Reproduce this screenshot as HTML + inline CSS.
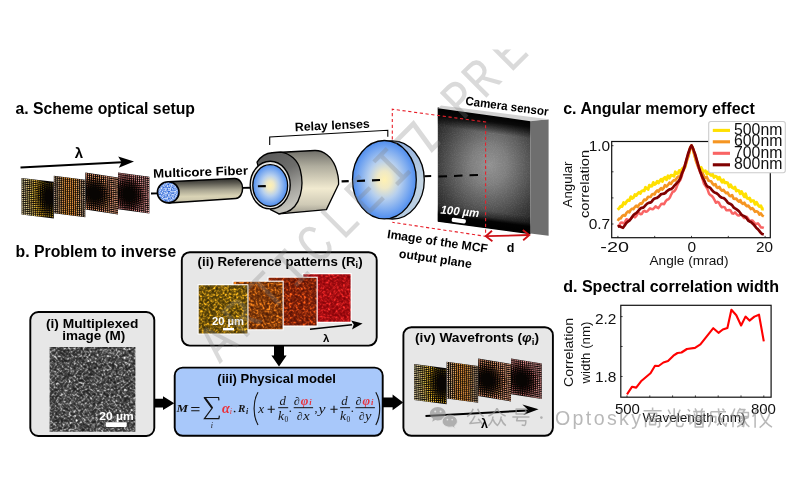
<!DOCTYPE html>
<html><head><meta charset="utf-8"><title>Figure</title>
<style>
html,body{margin:0;padding:0;background:#fff;}
body{width:800px;height:500px;overflow:hidden;font-family:"Liberation Sans",sans-serif;}
svg{display:block;font-family:"Liberation Sans",sans-serif;will-change:transform;opacity:0.999;}
</style></head><body>
<svg width="800" height="500" viewBox="0 0 800 500">

<defs>
  <radialGradient id="gLens" cx="50%" cy="50%" r="50%">
    <stop offset="0" stop-color="#fff1b2"/>
    <stop offset="0.22" stop-color="#efe9c6"/>
    <stop offset="0.5" stop-color="#b6cfee"/>
    <stop offset="0.8" stop-color="#78a8f0"/>
    <stop offset="1" stop-color="#4f8dee"/>
  </radialGradient>
  <linearGradient id="gBarrel" x1="0" y1="0" x2="0" y2="1">
    <stop offset="0" stop-color="#6f6e68"/>
    <stop offset="0.25" stop-color="#b0ad9e"/>
    <stop offset="0.6" stop-color="#f1ead0"/>
    <stop offset="0.85" stop-color="#cfcab6"/>
    <stop offset="1" stop-color="#9d9a8e"/>
  </linearGradient>
  <linearGradient id="gCollar" x1="0" y1="0" x2="0.35" y2="1">
    <stop offset="0" stop-color="#555555"/>
    <stop offset="0.45" stop-color="#6e6e6c"/>
    <stop offset="0.8" stop-color="#a9a8a2"/>
    <stop offset="1" stop-color="#c2c1ba"/>
  </linearGradient>
  <linearGradient id="gFiber" x1="0" y1="0" x2="0.05" y2="1">
    <stop offset="0" stop-color="#262624"/>
    <stop offset="0.22" stop-color="#5b5950"/>
    <stop offset="0.5" stop-color="#aaa692"/>
    <stop offset="0.75" stop-color="#d9d3b5"/>
    <stop offset="0.9" stop-color="#cfc9ae"/>
    <stop offset="1" stop-color="#8d8a7c"/>
  </linearGradient>
  <linearGradient id="gRim" x1="0" y1="0" x2="0" y2="1">
    <stop offset="0" stop-color="#8fb0e0"/>
    <stop offset="0.5" stop-color="#c3d4e2"/>
    <stop offset="1" stop-color="#b4cbe2"/>
  </linearGradient>
  <radialGradient id="gCam" gradientUnits="userSpaceOnUse" cx="489" cy="150" r="72" gradientTransform="scale(1 1.1)">
    <stop offset="0" stop-color="#929292"/>
    <stop offset="0.25" stop-color="#7e7e7e"/>
    <stop offset="0.5" stop-color="#5c5c5c"/>
    <stop offset="0.75" stop-color="#383838"/>
    <stop offset="1" stop-color="#1c1c1c"/>
  </radialGradient>
  <linearGradient id="gCamBottom" gradientUnits="userSpaceOnUse" x1="0" y1="204" x2="0" y2="221.6">
    <stop offset="0" stop-color="#000" stop-opacity="0"/>
    <stop offset="0.35" stop-color="#000" stop-opacity="0.35"/>
    <stop offset="0.58" stop-color="#000" stop-opacity="0.95"/>
    <stop offset="1" stop-color="#000" stop-opacity="1"/>
  </linearGradient>
  <linearGradient id="gCamTop" gradientUnits="userSpaceOnUse" x1="0" y1="107.6" x2="0" y2="126">
    <stop offset="0" stop-color="#000" stop-opacity="1"/>
    <stop offset="0.38" stop-color="#000" stop-opacity="0.88"/>
    <stop offset="1" stop-color="#000" stop-opacity="0"/>
  </linearGradient>

  <!-- speckle filters -->
  <filter id="fGray" x="0" y="0" width="100%" height="100%" color-interpolation-filters="sRGB">
    <feTurbulence type="fractalNoise" baseFrequency="0.85" numOctaves="2" seed="7"/>
    <feColorMatrix type="matrix" values="1 0 0 0 0 1 0 0 0 0 1 0 0 0 0 0 0 0 0 1"/>
    <feComponentTransfer><feFuncR type="gamma" amplitude="3.0" exponent="3.2" offset="0.03"/><feFuncG type="gamma" amplitude="3.0" exponent="3.2" offset="0.03"/><feFuncB type="gamma" amplitude="3.0" exponent="3.2" offset="0.03"/></feComponentTransfer>
    <feConvolveMatrix order="3" kernelMatrix="1 2 1 2 6 2 1 2 1" divisor="18" edgeMode="duplicate" preserveAlpha="true"/>
    <feComponentTransfer><feFuncR type="gamma" exponent="2" amplitude="1.74" offset="0.03"/><feFuncG type="gamma" exponent="2" amplitude="1.74" offset="0.03"/><feFuncB type="gamma" exponent="2" amplitude="1.74" offset="0.03"/><feFuncA type="linear" slope="0" intercept="1"/></feComponentTransfer>
  </filter>
  <filter id="fY" x="0" y="0" width="100%" height="100%" color-interpolation-filters="sRGB">
    <feTurbulence type="fractalNoise" baseFrequency="0.85" numOctaves="2" seed="11"/>
    <feColorMatrix type="matrix" values="1 0 0 0 0 1 0 0 0 0 1 0 0 0 0 0 0 0 0 1"/>
    <feComponentTransfer><feFuncR type="gamma" amplitude="3.0" exponent="3.2" offset="0.03"/><feFuncG type="gamma" amplitude="3.0" exponent="3.2" offset="0.03"/><feFuncB type="gamma" amplitude="3.0" exponent="3.2" offset="0.03"/></feComponentTransfer>
    <feConvolveMatrix order="3" kernelMatrix="1 2 1 2 6 2 1 2 1" divisor="18" edgeMode="duplicate" preserveAlpha="true"/>
    <feComponentTransfer><feFuncR type="gamma" exponent="2" amplitude="2.08" offset="0.125"/><feFuncG type="gamma" exponent="2" amplitude="1.51" offset="0.1"/><feFuncB type="gamma" exponent="2" amplitude="0.23" offset="0.01"/><feFuncA type="linear" slope="0" intercept="1"/></feComponentTransfer>
  </filter>
  <filter id="fO" x="0" y="0" width="100%" height="100%" color-interpolation-filters="sRGB">
    <feTurbulence type="fractalNoise" baseFrequency="0.85" numOctaves="2" seed="23"/>
    <feColorMatrix type="matrix" values="1 0 0 0 0 1 0 0 0 0 1 0 0 0 0 0 0 0 0 1"/>
    <feComponentTransfer><feFuncR type="gamma" amplitude="3.0" exponent="3.2" offset="0.03"/><feFuncG type="gamma" amplitude="3.0" exponent="3.2" offset="0.03"/><feFuncB type="gamma" amplitude="3.0" exponent="3.2" offset="0.03"/></feComponentTransfer>
    <feConvolveMatrix order="3" kernelMatrix="1 2 1 2 6 2 1 2 1" divisor="18" edgeMode="duplicate" preserveAlpha="true"/>
    <feComponentTransfer><feFuncR type="gamma" exponent="2" amplitude="1.84" offset="0.22"/><feFuncG type="gamma" exponent="2" amplitude="1.1" offset="0.06"/><feFuncB type="gamma" exponent="2" amplitude="0.23" offset="0.01"/><feFuncA type="linear" slope="0" intercept="1"/></feComponentTransfer>
  </filter>
  <filter id="fRO" x="0" y="0" width="100%" height="100%" color-interpolation-filters="sRGB">
    <feTurbulence type="fractalNoise" baseFrequency="0.85" numOctaves="2" seed="31"/>
    <feColorMatrix type="matrix" values="1 0 0 0 0 1 0 0 0 0 1 0 0 0 0 0 0 0 0 1"/>
    <feComponentTransfer><feFuncR type="gamma" amplitude="3.0" exponent="3.2" offset="0.03"/><feFuncG type="gamma" amplitude="3.0" exponent="3.2" offset="0.03"/><feFuncB type="gamma" amplitude="3.0" exponent="3.2" offset="0.03"/></feComponentTransfer>
    <feConvolveMatrix order="3" kernelMatrix="1 2 1 2 6 2 1 2 1" divisor="18" edgeMode="duplicate" preserveAlpha="true"/>
    <feComponentTransfer><feFuncR type="gamma" exponent="2" amplitude="1.78" offset="0.245"/><feFuncG type="gamma" exponent="2" amplitude="0.8" offset="0.02"/><feFuncB type="gamma" exponent="2" amplitude="0.2" offset="0.01"/><feFuncA type="linear" slope="0" intercept="1"/></feComponentTransfer>
  </filter>
  <filter id="fR" x="0" y="0" width="100%" height="100%" color-interpolation-filters="sRGB">
    <feTurbulence type="fractalNoise" baseFrequency="0.85" numOctaves="2" seed="47"/>
    <feColorMatrix type="matrix" values="1 0 0 0 0 1 0 0 0 0 1 0 0 0 0 0 0 0 0 1"/>
    <feComponentTransfer><feFuncR type="gamma" amplitude="3.0" exponent="3.2" offset="0.03"/><feFuncG type="gamma" amplitude="3.0" exponent="3.2" offset="0.03"/><feFuncB type="gamma" amplitude="3.0" exponent="3.2" offset="0.03"/></feComponentTransfer>
    <feConvolveMatrix order="3" kernelMatrix="1 2 1 2 6 2 1 2 1" divisor="18" edgeMode="duplicate" preserveAlpha="true"/>
    <feComponentTransfer><feFuncR type="gamma" exponent="2" amplitude="1.24" offset="0.46"/><feFuncG type="gamma" exponent="2" amplitude="0.44" offset="-0.013"/><feFuncB type="gamma" exponent="2" amplitude="0.37" offset="0.014"/><feFuncA type="linear" slope="0" intercept="1"/></feComponentTransfer>
  </filter>
  <filter id="fCamNoise" x="0" y="0" width="100%" height="100%" color-interpolation-filters="sRGB">
    <feTurbulence type="fractalNoise" baseFrequency="0.9" numOctaves="1" seed="5" result="n"/>
    <feColorMatrix in="n" type="matrix" values="0 0 0 0 1  0 0 0 0 1  0 0 0 0 1  1.2 0 0 0 -0.5"/>
  </filter>
  <filter id="fFib" x="0" y="0" width="100%" height="100%" color-interpolation-filters="sRGB">
    <feTurbulence type="fractalNoise" baseFrequency="0.7" numOctaves="1" seed="9" result="n"/>
    <feColorMatrix in="n" type="matrix" values="2.0 0 0 0 -0.45  1.5 0 0 0 -0.08  0.5 0 0 0 0.68  0 0 0 0 1"/>
  </filter>

  <!-- wavefront patterns -->
  <pattern id="pW1" width="2.46" height="2.4" patternUnits="userSpaceOnUse"><rect width="2.46" height="2.4" fill="#0d0a05"/><rect x="0.35" y="0.45" width="1.75" height="1.45" fill="#d9c36c"/></pattern>
  <pattern id="pW2" width="2.42" height="2.4" patternUnits="userSpaceOnUse"><rect width="2.42" height="2.4" fill="#0d0703"/><rect x="0.35" y="0.45" width="1.7" height="1.45" fill="#e29a4c"/></pattern>
  <pattern id="pW3" width="2.5" height="2.4" patternUnits="userSpaceOnUse"><rect width="2.5" height="2.4" fill="#0d0503"/><rect x="0.35" y="0.45" width="1.75" height="1.45" fill="#ea9878"/></pattern>
  <pattern id="pW4" width="2.4" height="2.4" patternUnits="userSpaceOnUse"><rect width="2.4" height="2.4" fill="#0d0405"/><rect x="0.35" y="0.45" width="1.7" height="1.45" fill="#dc7c80"/></pattern>
  <radialGradient id="gDent"><stop offset="0" stop-color="#000" stop-opacity="0.95"/><stop offset="0.5" stop-color="#000" stop-opacity="0.6"/><stop offset="1" stop-color="#000" stop-opacity="0"/></radialGradient>
  <radialGradient id="gGlowY"><stop offset="0" stop-color="#f2c935" stop-opacity="0.55"/><stop offset="1" stop-color="#f2c935" stop-opacity="0"/></radialGradient>
  <radialGradient id="gGlowO"><stop offset="0" stop-color="#f08a20" stop-opacity="0.5"/><stop offset="1" stop-color="#f08a20" stop-opacity="0"/></radialGradient>
</defs>

<rect x="0" y="0" width="800" height="500" fill="#ffffff"/>
<text x="15.4" y="113.8" font-size="15.6" font-weight="bold" fill="#000" textLength="179.5" lengthAdjust="spacingAndGlyphs">a. Scheme optical setup</text>
<text x="15.6" y="257" font-size="15.6" font-weight="bold" fill="#000" textLength="160.6" lengthAdjust="spacingAndGlyphs">b. Problem to inverse</text>
<text x="563.2" y="113.6" font-size="15.6" font-weight="bold" fill="#000" textLength="191.6" lengthAdjust="spacingAndGlyphs">c. Angular memory effect</text>
<text x="563.2" y="291.6" font-size="15.6" font-weight="bold" fill="#000" textLength="215.8" lengthAdjust="spacingAndGlyphs">d. Spectral correlation width</text>
<defs><g id="wp1">
<rect x="0" y="0" width="32.4" height="37.0" fill="#080503"/>
<path d="M0.2 0.4h1.5v1.1h-1.5zM0.2 23.8h1.5v1.1h-1.5z" fill="#ccbb99"/>
<path d="M2.3 0.4h1.5v1.1h-1.5zM2.3 2.4h1.5v1.1h-1.5zM0.2 6.3h1.5v1.1h-1.5zM0.2 10.1h1.5v1.1h-1.5zM0.2 12.1h1.5v1.1h-1.5zM0.2 19.9h1.5v1.1h-1.5zM0.2 21.8h1.5v1.1h-1.5zM0.2 27.7h1.5v1.1h-1.5zM0.2 29.6h1.5v1.1h-1.5zM2.3 29.6h1.5v1.1h-1.5zM0.2 31.6h1.5v1.1h-1.5zM2.3 33.5h1.5v1.1h-1.5zM0.2 35.5h1.5v1.1h-1.5zM2.3 35.5h1.5v1.1h-1.5zM4.3 35.5h1.5v1.1h-1.5z" fill="#eeddaa"/>
<path d="M4.3 0.4h1.5v1.1h-1.5zM4.3 2.4h1.5v1.1h-1.5zM2.3 17.9h1.5v1.1h-1.5zM4.3 27.7h1.5v1.1h-1.5zM4.3 33.5h1.5v1.1h-1.5z" fill="#eedd99"/>
<path d="M6.3 0.4h1.5v1.1h-1.5zM6.3 2.4h1.5v1.1h-1.5zM4.3 14.0h1.5v1.1h-1.5zM4.3 19.9h1.5v1.1h-1.5zM4.3 21.8h1.5v1.1h-1.5zM6.3 31.6h1.5v1.1h-1.5zM8.3 33.5h1.5v1.1h-1.5zM8.3 35.5h1.5v1.1h-1.5z" fill="#ccbb77"/>
<path d="M8.3 0.4h1.5v1.1h-1.5zM6.3 6.3h1.5v1.1h-1.5zM6.3 14.0h1.5v1.1h-1.5zM6.3 19.9h1.5v1.1h-1.5z" fill="#ddcc77"/>
<path d="M10.4 0.4h1.5v1.1h-1.5zM10.4 2.4h1.5v1.1h-1.5zM10.4 4.3h1.5v1.1h-1.5zM8.4 19.9h1.5v1.1h-1.5zM10.4 25.7h1.5v1.1h-1.5zM10.4 27.7h1.5v1.1h-1.5zM10.4 29.6h1.5v1.1h-1.5z" fill="#ddbb55"/>
<path d="M12.4 0.5h1.5v1.1h-1.5zM14.7 0.4h1.2v1.5h-1.2zM12.5 4.4h1.5v1.1h-1.5zM14.7 33.3h1.2v1.5h-1.2zM16.7 35.2h1.2v1.5h-1.2z" fill="#eebb44"/>
<path d="M16.8 0.5h1.1v1.4h-1.1zM16.9 2.6h1.1v1.3h-1.1zM16.9 29.2h1.1v1.4h-1.1z" fill="#ccaa22"/>
<path d="M19.0 0.8h1.0v1.3h-1.0zM19.1 2.9h1.0v1.2h-1.0zM14.8 17.9h1.4v1.0h-1.4zM17.1 21.6h1.3v0.9h-1.3zM17.0 23.5h1.3v1.0h-1.3zM19.1 29.0h1.0v1.3h-1.0zM24.9 34.6h1.0v1.3h-1.0zM26.8 34.6h1.0v1.3h-1.0zM28.8 34.6h1.0v1.3h-1.0z" fill="#bb9922"/>
<path d="M21.1 1.2h0.9v1.2h-0.9z" fill="#bb9911"/>
<path d="M23.2 1.6h0.9v1.1h-0.9z" fill="#887711"/>
<path d="M25.1 2.0h0.8v1.1h-0.8zM21.3 3.4h0.9v1.1h-0.9zM19.4 9.0h1.1v0.8h-1.1zM21.4 26.6h0.9v1.1h-0.9zM23.2 28.3h0.9v1.1h-0.9zM30.6 28.3h0.9v1.1h-0.9zM25.1 30.2h0.9v1.1h-0.9zM26.9 30.1h0.9v1.1h-0.9zM28.8 30.2h0.9v1.1h-0.9z" fill="#886611"/>
<path d="M26.9 2.1h0.8v1.0h-0.8zM23.3 3.8h0.8v1.0h-0.8zM30.5 3.9h0.8v1.0h-0.8zM21.6 7.5h0.8v1.0h-0.8zM19.6 12.6h1.1v0.8h-1.1zM19.7 16.1h1.1v0.8h-1.1zM19.6 19.6h1.1v0.8h-1.1zM21.5 24.6h0.8v1.0h-0.8zM23.4 26.2h0.8v1.0h-0.8zM30.5 26.1h0.8v1.0h-0.8zM28.7 28.0h0.8v1.0h-0.8z" fill="#665511"/>
<path d="M28.7 2.0h0.8v1.1h-0.8zM21.5 5.4h0.8v1.1h-0.8zM19.7 14.4h1.1v0.8h-1.1zM19.7 17.8h1.1v0.8h-1.1zM19.5 21.4h1.1v0.8h-1.1zM25.2 28.0h0.8v1.0h-0.8z" fill="#775511"/>
<path d="M30.6 1.7h0.9v1.1h-0.9zM19.3 7.1h1.2v0.9h-1.2zM17.2 14.2h1.2v0.9h-1.2zM17.2 17.9h1.2v0.9h-1.2zM17.2 19.7h1.2v0.9h-1.2zM19.3 23.2h1.2v0.8h-1.2zM23.1 30.5h0.9v1.2h-0.9z" fill="#997711"/>
<path d="M0.2 2.4h1.5v1.1h-1.5zM0.2 4.3h1.5v1.1h-1.5z" fill="#cccc99"/>
<path d="M8.4 2.4h1.5v1.1h-1.5zM6.3 21.8h1.5v1.1h-1.5z" fill="#ccaa66"/>
<path d="M12.5 2.4h1.5v1.1h-1.5zM10.4 12.1h1.5v1.1h-1.5zM10.4 14.0h1.5v1.1h-1.5zM10.4 17.9h1.5v1.1h-1.5zM12.5 25.7h1.5v1.1h-1.5zM12.5 27.6h1.5v1.1h-1.5z" fill="#eecc44"/>
<path d="M14.6 2.5h1.5v1.1h-1.5zM12.6 19.9h1.5v1.1h-1.5zM12.5 23.7h1.5v1.1h-1.5zM14.7 29.3h1.1v1.4h-1.1zM14.7 31.3h1.2v1.5h-1.2z" fill="#ddaa33"/>
<path d="M25.2 4.2h0.8v1.0h-0.8zM27.0 4.4h0.8v1.0h-0.8zM28.7 4.3h0.8v1.0h-0.8zM23.5 6.0h0.8v1.0h-0.8zM21.8 9.4h0.8v1.0h-0.8z" fill="#554411"/>
<path d="M2.3 4.3h1.5v1.1h-1.5zM0.2 8.2h1.5v1.1h-1.5zM2.3 8.2h1.5v1.1h-1.5zM2.3 10.1h1.5v1.1h-1.5zM2.3 12.1h1.5v1.1h-1.5zM2.3 16.0h1.5v1.1h-1.5zM2.3 19.9h1.5v1.1h-1.5zM2.3 21.8h1.5v1.1h-1.5zM0.2 25.7h1.5v1.1h-1.5zM2.3 27.7h1.5v1.1h-1.5zM4.3 31.6h1.5v1.1h-1.5zM0.2 33.5h1.5v1.1h-1.5z" fill="#ddcc99"/>
<path d="M4.3 4.3h1.5v1.1h-1.5zM0.2 14.0h1.5v1.1h-1.5zM2.3 14.0h1.5v1.1h-1.5zM0.2 16.0h1.5v1.1h-1.5zM0.2 17.9h1.5v1.1h-1.5zM2.3 25.7h1.5v1.1h-1.5zM2.3 31.6h1.5v1.1h-1.5zM6.3 33.5h1.5v1.1h-1.5zM6.3 35.5h1.5v1.1h-1.5z" fill="#ccbb88"/>
<path d="M6.3 4.3h1.5v1.1h-1.5zM6.3 10.1h1.5v1.1h-1.5zM6.3 16.0h1.5v1.1h-1.5zM6.3 17.9h1.5v1.1h-1.5zM6.3 23.8h1.5v1.1h-1.5zM8.3 31.6h1.5v1.1h-1.5z" fill="#ccbb66"/>
<path d="M8.4 4.3h1.5v1.1h-1.5zM8.4 6.3h1.5v1.1h-1.5zM8.4 14.0h1.5v1.1h-1.5zM8.4 21.8h1.5v1.1h-1.5zM8.4 25.7h1.5v1.1h-1.5zM10.4 31.6h1.5v1.1h-1.5zM12.6 35.3h1.2v1.5h-1.2z" fill="#eecc66"/>
<path d="M14.6 4.5h1.5v1.1h-1.5zM12.6 16.0h1.5v1.1h-1.5zM12.6 17.9h1.5v1.1h-1.5zM16.7 33.2h1.1v1.4h-1.1z" fill="#ccaa33"/>
<path d="M16.9 4.7h1.4v1.0h-1.4zM17.0 27.2h1.1v1.3h-1.1zM20.9 32.9h1.0v1.3h-1.0z" fill="#eebb22"/>
<path d="M19.3 4.9h0.9v1.2h-0.9zM19.3 25.0h0.9v1.2h-0.9zM21.2 28.7h0.9v1.2h-0.9zM25.0 32.5h0.9v1.2h-0.9z" fill="#bb8811"/>
<path d="M25.3 6.4h0.7v0.9h-0.7zM28.7 6.5h0.7v0.9h-0.7zM27.0 25.7h0.7v0.9h-0.7z" fill="#333300"/>
<path d="M27.0 6.6h0.7v0.9h-0.7zM23.7 8.0h0.7v0.9h-0.7zM30.3 8.1h0.7v0.9h-0.7zM22.0 12.9h0.9v0.7h-0.9zM22.0 14.5h0.9v0.7h-0.9zM28.6 23.7h0.7v0.9h-0.7z" fill="#332200"/>
<path d="M30.4 6.1h0.8v1.0h-0.8zM21.8 21.0h1.0v0.7h-1.0zM23.6 24.2h0.8v0.9h-0.8zM25.3 25.8h0.8v1.0h-0.8z" fill="#443311"/>
<path d="M2.3 6.3h1.5v1.1h-1.5zM2.3 23.8h1.5v1.1h-1.5z" fill="#dddd99"/>
<path d="M4.3 6.3h1.5v1.1h-1.5z" fill="#ddbb88"/>
<path d="M10.4 6.3h1.5v1.1h-1.5zM10.4 10.2h1.5v1.1h-1.5z" fill="#eecc55"/>
<path d="M12.5 6.3h1.5v1.1h-1.5zM12.5 8.3h1.5v1.1h-1.5zM12.6 12.1h1.5v1.1h-1.5z" fill="#ddbb33"/>
<path d="M14.7 6.4h1.4v1.1h-1.4zM12.5 10.2h1.5v1.1h-1.5zM12.6 14.1h1.5v1.1h-1.5zM12.5 21.8h1.5v1.1h-1.5zM14.8 21.7h1.4v1.0h-1.4zM14.7 25.6h1.5v1.1h-1.5zM14.6 27.5h1.5v1.1h-1.5zM18.8 35.1h1.1v1.4h-1.1z" fill="#eebb33"/>
<path d="M17.0 6.7h1.3v1.0h-1.3zM23.0 32.6h1.0v1.2h-1.0z" fill="#bb8822"/>
<path d="M25.5 8.5h0.7v0.9h-0.7zM28.6 8.5h0.7v0.9h-0.7zM30.2 10.0h0.7v0.9h-0.7zM23.9 20.5h0.7v0.9h-0.7zM27.0 23.6h0.7v0.9h-0.7z" fill="#221100"/>
<path d="M4.3 8.2h1.5v1.1h-1.5zM4.3 12.1h1.5v1.1h-1.5zM4.3 17.9h1.5v1.1h-1.5zM4.3 23.8h1.5v1.1h-1.5zM4.3 25.7h1.5v1.1h-1.5zM4.3 29.6h1.5v1.1h-1.5zM6.3 29.6h1.5v1.1h-1.5z" fill="#ddcc88"/>
<path d="M6.3 8.2h1.5v1.1h-1.5zM8.3 29.6h1.5v1.1h-1.5z" fill="#eecc77"/>
<path d="M8.4 8.2h1.5v1.1h-1.5zM8.4 10.2h1.5v1.1h-1.5zM8.4 27.7h1.5v1.1h-1.5zM10.4 33.5h1.5v1.1h-1.5z" fill="#ddbb66"/>
<path d="M10.4 8.2h1.5v1.1h-1.5zM10.4 16.0h1.5v1.1h-1.5zM10.4 19.9h1.5v1.1h-1.5zM12.4 29.6h1.5v1.1h-1.5zM14.6 35.2h1.2v1.5h-1.2z" fill="#ddbb44"/>
<path d="M14.7 8.4h1.4v1.0h-1.4zM14.8 12.2h1.4v1.0h-1.4zM14.9 16.0h1.4v1.0h-1.4zM16.9 25.4h1.3v1.0h-1.3zM19.2 27.0h1.0v1.2h-1.0zM18.8 33.1h1.1v1.4h-1.1zM30.7 34.8h1.0v1.3h-1.0z" fill="#cc9922"/>
<path d="M17.1 8.6h1.3v0.9h-1.3zM17.1 10.5h1.3v0.9h-1.3zM17.2 12.4h1.2v0.9h-1.2zM17.3 16.1h1.2v0.9h-1.2zM21.1 30.8h1.0v1.2h-1.0zM30.7 30.4h0.9v1.1h-0.9zM26.9 32.4h0.9v1.2h-0.9zM28.8 32.4h0.9v1.2h-0.9zM30.7 32.6h1.0v1.2h-1.0z" fill="#aa8811"/>
<path d="M23.9 9.9h0.7v0.9h-0.7zM22.1 16.1h0.9v0.7h-0.9zM22.0 17.7h0.9v0.7h-0.9zM23.8 22.2h0.7v0.9h-0.7zM30.2 22.2h0.7v0.9h-0.7zM25.4 23.8h0.7v0.9h-0.7z" fill="#222200"/>
<path d="M4.3 10.1h1.5v1.1h-1.5z" fill="#eedd88"/>
<path d="M14.8 10.3h1.4v1.0h-1.4zM14.8 19.8h1.4v1.0h-1.4zM14.7 23.7h1.4v1.0h-1.4zM18.9 31.0h1.0v1.3h-1.0zM20.8 34.9h1.1v1.4h-1.1zM22.9 34.8h1.0v1.3h-1.0z" fill="#ddaa22"/>
<path d="M19.5 10.9h1.1v0.8h-1.1z" fill="#776611"/>
<path d="M21.9 11.3h1.0v0.7h-1.0zM21.9 19.3h1.0v0.7h-1.0zM30.4 24.1h0.7v0.9h-0.7zM28.7 25.8h0.8v1.0h-0.8z" fill="#443300"/>
<path d="M6.3 12.1h1.5v1.1h-1.5zM4.3 16.0h1.5v1.1h-1.5zM6.3 27.7h1.5v1.1h-1.5z" fill="#ddbb77"/>
<path d="M8.4 12.1h1.5v1.1h-1.5zM8.4 23.8h1.5v1.1h-1.5zM12.6 33.3h1.2v1.5h-1.2z" fill="#ccaa55"/>
<path d="M14.8 14.1h1.4v1.0h-1.4z" fill="#ddbb22"/>
<path d="M8.4 16.0h1.5v1.1h-1.5z" fill="#ccbb55"/>
<path d="M8.4 17.9h1.5v1.1h-1.5z" fill="#ddcc55"/>
<path d="M10.4 21.8h1.5v1.1h-1.5zM12.4 31.5h1.5v1.1h-1.5z" fill="#ccaa44"/>
<path d="M10.4 23.8h1.5v1.1h-1.5z" fill="#eebb55"/>
<path d="M21.7 22.7h0.8v1.0h-0.8zM27.0 27.9h0.8v1.0h-0.8z" fill="#664411"/>
<path d="M6.3 25.7h1.5v1.1h-1.5z" fill="#eecc88"/>
<path d="M16.8 31.2h1.1v1.4h-1.1z" fill="#ffcc33"/>
<path d="M10.6 35.3h1.2v1.5h-1.2z" fill="#ddcc66"/>
</g>
<g id="wp2">
<rect x="0" y="0" width="32.4" height="37.0" fill="#080503"/>
<path d="M0.4 0.4h1.1v1.2h-1.1zM30.8 0.4h1.1v1.2h-1.1zM0.4 2.3h1.1v1.2h-1.1zM30.8 8.2h1.1v1.2h-1.1zM0.4 16.0h1.1v1.2h-1.1zM0.4 17.9h1.1v1.2h-1.1zM30.8 17.9h1.1v1.2h-1.1zM0.4 31.5h1.1v1.2h-1.1zM0.4 35.4h1.1v1.2h-1.1z" fill="#eeccaa"/>
<path d="M2.5 0.4h1.1v1.2h-1.1zM2.5 4.3h1.1v1.2h-1.1zM28.8 10.1h1.1v1.2h-1.1zM2.5 12.1h1.1v1.2h-1.1zM28.8 17.9h1.1v1.2h-1.1z" fill="#eecc99"/>
<path d="M4.5 0.3h1.2v1.3h-1.2zM26.8 2.3h1.2v1.3h-1.2zM26.8 19.8h1.2v1.3h-1.2zM4.5 25.7h1.2v1.3h-1.2zM26.8 31.5h1.2v1.3h-1.2z" fill="#cc9977"/>
<path d="M6.5 0.3h1.2v1.3h-1.2zM6.5 4.2h1.2v1.3h-1.2zM24.7 10.0h1.2v1.3h-1.2zM24.7 12.0h1.2v1.3h-1.2zM6.5 13.9h1.2v1.3h-1.2zM24.7 13.9h1.2v1.3h-1.2zM6.5 21.7h1.2v1.3h-1.2zM6.5 23.7h1.2v1.3h-1.2zM24.7 23.7h1.2v1.3h-1.2zM24.7 25.6h1.2v1.3h-1.2zM6.5 31.5h1.2v1.3h-1.2zM6.5 35.4h1.2v1.3h-1.2z" fill="#cc9955"/>
<path d="M8.5 0.3h1.2v1.4h-1.2zM8.5 4.2h1.2v1.4h-1.2zM22.7 4.2h1.2v1.4h-1.2zM22.7 6.1h1.2v1.4h-1.2zM8.5 8.1h1.2v1.4h-1.2zM8.5 10.0h1.2v1.4h-1.2zM22.7 10.0h1.2v1.4h-1.2zM8.5 13.9h1.2v1.4h-1.2zM22.7 25.6h1.2v1.4h-1.2zM22.7 31.4h1.2v1.4h-1.2z" fill="#eeaa55"/>
<path d="M10.5 0.2h1.2v1.5h-1.2zM12.6 0.2h1.2v1.5h-1.2zM18.6 2.2h1.2v1.5h-1.2zM10.5 4.1h1.2v1.5h-1.2zM12.6 4.1h1.2v1.5h-1.2zM14.6 4.1h1.2v1.5h-1.2zM16.6 4.1h1.2v1.5h-1.2zM18.6 4.1h1.2v1.5h-1.2zM10.5 6.1h1.2v1.5h-1.2zM14.6 6.1h1.2v1.5h-1.2zM16.6 6.1h1.2v1.5h-1.2zM12.6 8.0h1.2v1.5h-1.2zM14.6 8.0h1.2v1.5h-1.2zM20.7 8.0h1.2v1.5h-1.2zM12.6 10.0h1.2v1.5h-1.2zM16.6 10.0h1.2v1.5h-1.2zM14.6 11.9h1.2v1.5h-1.2zM18.6 11.9h1.2v1.5h-1.2zM18.6 13.9h1.2v1.5h-1.2zM12.6 15.8h1.2v1.5h-1.2zM20.7 15.8h1.2v1.5h-1.2zM10.5 19.7h1.2v1.5h-1.2zM12.6 19.7h1.2v1.5h-1.2zM14.6 21.7h1.2v1.5h-1.2zM18.6 21.7h1.2v1.5h-1.2zM20.7 21.7h1.2v1.5h-1.2zM14.6 23.6h1.2v1.5h-1.2zM20.7 23.6h1.2v1.5h-1.2zM14.6 27.5h1.2v1.5h-1.2zM16.6 27.5h1.2v1.5h-1.2zM18.6 27.5h1.2v1.5h-1.2zM20.7 27.5h1.2v1.5h-1.2zM12.6 29.4h1.2v1.5h-1.2zM14.6 29.4h1.2v1.5h-1.2zM16.6 29.4h1.2v1.5h-1.2zM18.6 29.4h1.2v1.5h-1.2zM10.5 31.4h1.2v1.5h-1.2zM20.7 31.4h1.2v1.5h-1.2zM12.6 33.3h1.2v1.5h-1.2zM14.6 33.3h1.2v1.5h-1.2zM20.7 33.3h1.2v1.5h-1.2zM14.6 35.3h1.2v1.5h-1.2z" fill="#ee9944"/>
<path d="M14.6 0.2h1.2v1.5h-1.2zM12.6 2.2h1.2v1.5h-1.2zM14.6 2.2h1.2v1.5h-1.2zM16.6 2.2h1.2v1.5h-1.2zM20.7 4.1h1.2v1.5h-1.2zM12.6 6.1h1.2v1.5h-1.2zM18.6 6.1h1.2v1.5h-1.2zM10.5 8.0h1.2v1.5h-1.2zM16.6 8.0h1.2v1.5h-1.2zM18.6 8.0h1.2v1.5h-1.2zM18.6 10.0h1.2v1.5h-1.2zM10.5 11.9h1.2v1.5h-1.2zM14.6 13.9h1.2v1.5h-1.2zM14.6 15.8h1.2v1.5h-1.2zM18.6 15.8h1.2v1.5h-1.2zM14.6 19.7h1.2v1.5h-1.2zM16.6 19.7h1.2v1.5h-1.2zM12.6 21.7h1.2v1.5h-1.2zM10.5 23.6h1.2v1.5h-1.2zM12.6 23.6h1.2v1.5h-1.2zM18.6 23.6h1.2v1.5h-1.2zM18.6 25.5h1.2v1.5h-1.2zM20.7 25.6h1.2v1.5h-1.2zM20.7 29.4h1.2v1.5h-1.2zM14.6 31.4h1.2v1.5h-1.2zM18.6 33.3h1.2v1.5h-1.2zM18.6 35.3h1.2v1.5h-1.2z" fill="#dd8833"/>
<path d="M16.6 0.2h1.2v1.5h-1.2zM18.6 0.2h1.2v1.5h-1.2zM18.6 19.7h1.2v1.5h-1.2zM14.6 25.5h1.2v1.5h-1.2zM12.6 35.3h1.2v1.5h-1.2z" fill="#dd9933"/>
<path d="M20.7 0.2h1.2v1.5h-1.2zM20.7 2.2h1.2v1.5h-1.2zM22.7 2.2h1.2v1.4h-1.2zM8.5 6.1h1.2v1.4h-1.2zM20.7 6.1h1.2v1.5h-1.2zM16.6 13.9h1.2v1.5h-1.2zM22.7 13.9h1.2v1.4h-1.2zM8.5 15.8h1.2v1.4h-1.2zM10.5 17.8h1.2v1.5h-1.2zM8.5 21.7h1.2v1.4h-1.2zM16.6 23.6h1.2v1.5h-1.2zM22.7 23.6h1.2v1.4h-1.2zM8.5 25.6h1.2v1.4h-1.2zM8.5 29.5h1.2v1.4h-1.2zM8.5 31.4h1.2v1.4h-1.2zM10.5 33.3h1.2v1.5h-1.2zM8.5 35.3h1.2v1.4h-1.2zM22.7 35.3h1.2v1.4h-1.2z" fill="#dd9944"/>
<path d="M22.7 0.3h1.2v1.4h-1.2zM8.5 2.2h1.2v1.4h-1.2zM8.5 11.9h1.2v1.4h-1.2zM22.7 15.8h1.2v1.4h-1.2zM8.5 17.8h1.2v1.4h-1.2zM22.7 19.7h1.2v1.4h-1.2zM8.5 27.5h1.2v1.4h-1.2zM22.7 27.5h1.2v1.4h-1.2zM22.7 29.5h1.2v1.4h-1.2zM8.5 33.4h1.2v1.4h-1.2zM22.7 33.4h1.2v1.4h-1.2z" fill="#cc8844"/>
<path d="M24.7 0.3h1.2v1.3h-1.2zM6.5 17.8h1.2v1.3h-1.2zM24.7 19.8h1.2v1.3h-1.2zM24.7 21.7h1.2v1.3h-1.2zM6.5 25.6h1.2v1.3h-1.2zM6.5 27.6h1.2v1.3h-1.2z" fill="#dd9966"/>
<path d="M26.8 0.3h1.2v1.3h-1.2zM4.5 2.3h1.2v1.3h-1.2zM4.5 6.2h1.2v1.3h-1.2zM26.8 6.2h1.2v1.3h-1.2zM26.8 10.1h1.2v1.3h-1.2zM4.5 12.0h1.2v1.3h-1.2zM4.5 14.0h1.2v1.3h-1.2zM26.8 14.0h1.2v1.3h-1.2zM26.8 15.9h1.2v1.3h-1.2zM4.5 17.9h1.2v1.3h-1.2zM26.8 21.8h1.2v1.3h-1.2zM4.5 33.4h1.2v1.3h-1.2zM26.8 33.4h1.2v1.3h-1.2zM4.5 35.4h1.2v1.3h-1.2z" fill="#ddaa77"/>
<path d="M28.8 0.4h1.1v1.2h-1.1zM2.5 2.3h1.1v1.2h-1.1zM0.4 4.3h1.1v1.2h-1.1zM28.8 4.3h1.1v1.2h-1.1zM30.8 4.3h1.1v1.2h-1.1zM0.4 6.2h1.1v1.2h-1.1zM2.5 6.2h1.1v1.2h-1.1zM0.4 8.2h1.1v1.2h-1.1zM28.8 8.2h1.1v1.2h-1.1zM0.4 10.1h1.1v1.2h-1.1zM28.8 12.1h1.1v1.2h-1.1zM2.5 14.0h1.1v1.2h-1.1zM28.8 14.0h1.1v1.2h-1.1zM2.5 16.0h1.1v1.2h-1.1zM28.8 16.0h1.1v1.2h-1.1zM28.8 19.8h1.1v1.2h-1.1zM28.8 21.8h1.1v1.2h-1.1zM2.5 23.7h1.1v1.2h-1.1zM2.5 25.7h1.1v1.2h-1.1zM30.8 25.7h1.1v1.2h-1.1zM28.8 27.6h1.1v1.2h-1.1zM30.8 27.7h1.1v1.2h-1.1zM30.8 29.6h1.1v1.2h-1.1zM2.5 31.5h1.1v1.2h-1.1zM0.4 33.5h1.1v1.2h-1.1zM2.5 33.5h1.1v1.2h-1.1zM28.8 33.5h1.1v1.2h-1.1zM2.5 35.4h1.1v1.2h-1.1zM28.8 35.4h1.1v1.2h-1.1zM30.8 35.4h1.1v1.2h-1.1z" fill="#ddbb99"/>
<path d="M6.5 2.2h1.2v1.3h-1.2zM24.7 2.2h1.2v1.3h-1.2zM6.5 8.1h1.2v1.3h-1.2zM24.7 8.1h1.2v1.3h-1.2zM6.5 29.5h1.2v1.3h-1.2z" fill="#cc9966"/>
<path d="M10.5 2.2h1.2v1.5h-1.2zM10.5 10.0h1.2v1.5h-1.2zM14.6 10.0h1.2v1.5h-1.2zM20.7 10.0h1.2v1.5h-1.2zM12.6 11.9h1.2v1.5h-1.2zM16.6 11.9h1.2v1.5h-1.2zM20.7 11.9h1.2v1.5h-1.2zM10.5 13.9h1.2v1.5h-1.2zM12.6 13.9h1.2v1.5h-1.2zM20.7 13.9h1.2v1.5h-1.2zM10.5 15.8h1.2v1.5h-1.2zM16.6 15.8h1.2v1.5h-1.2zM12.6 17.8h1.2v1.5h-1.2zM14.6 17.8h1.2v1.5h-1.2zM16.6 17.8h1.2v1.5h-1.2zM18.6 17.8h1.2v1.5h-1.2zM20.7 17.8h1.2v1.5h-1.2zM20.7 19.7h1.2v1.5h-1.2zM16.6 21.7h1.2v1.5h-1.2zM12.6 25.5h1.2v1.5h-1.2zM16.6 25.5h1.2v1.5h-1.2zM10.5 27.5h1.2v1.5h-1.2zM12.6 27.5h1.2v1.5h-1.2zM12.6 31.4h1.2v1.5h-1.2zM16.6 31.4h1.2v1.5h-1.2zM18.6 31.4h1.2v1.5h-1.2zM16.6 33.3h1.2v1.5h-1.2zM10.5 35.3h1.2v1.5h-1.2zM16.6 35.3h1.2v1.5h-1.2z" fill="#cc8833"/>
<path d="M28.8 2.3h1.1v1.2h-1.1zM30.8 2.3h1.1v1.2h-1.1zM28.8 6.2h1.1v1.2h-1.1zM2.5 8.2h1.1v1.2h-1.1zM2.5 10.1h1.1v1.2h-1.1zM30.8 12.1h1.1v1.2h-1.1zM30.8 16.0h1.1v1.2h-1.1zM2.5 17.9h1.1v1.2h-1.1zM0.4 21.8h1.1v1.2h-1.1zM2.5 21.8h1.1v1.2h-1.1zM30.8 21.8h1.1v1.2h-1.1zM28.8 23.7h1.1v1.2h-1.1zM28.8 25.7h1.1v1.2h-1.1zM28.8 31.5h1.1v1.2h-1.1z" fill="#ccaa88"/>
<path d="M4.5 4.2h1.2v1.3h-1.2zM2.5 19.8h1.1v1.2h-1.1zM26.8 23.7h1.2v1.3h-1.2zM26.8 25.7h1.2v1.3h-1.2zM2.5 27.6h1.1v1.2h-1.1zM4.5 27.6h1.2v1.3h-1.2zM2.5 29.6h1.1v1.2h-1.1zM28.8 29.6h1.1v1.2h-1.1z" fill="#ddbb88"/>
<path d="M24.7 4.2h1.2v1.3h-1.2zM6.5 6.1h1.2v1.3h-1.2zM24.7 6.1h1.2v1.3h-1.2zM6.5 10.0h1.2v1.3h-1.2zM24.7 33.4h1.2v1.3h-1.2z" fill="#eeaa66"/>
<path d="M26.8 4.2h1.2v1.3h-1.2zM26.8 8.1h1.2v1.3h-1.2zM26.8 12.0h1.2v1.3h-1.2zM4.5 19.8h1.2v1.3h-1.2zM4.5 21.8h1.2v1.3h-1.2zM4.5 23.7h1.2v1.3h-1.2zM26.8 29.6h1.2v1.3h-1.2z" fill="#ccaa77"/>
<path d="M30.8 6.2h1.1v1.2h-1.1zM0.4 23.8h1.1v1.2h-1.1zM30.8 23.8h1.1v1.2h-1.1zM0.4 27.7h1.1v1.2h-1.1zM0.4 29.6h1.1v1.2h-1.1zM30.8 33.5h1.1v1.2h-1.1z" fill="#ccbb99"/>
<path d="M4.5 8.1h1.2v1.3h-1.2zM4.5 10.1h1.2v1.3h-1.2zM4.5 15.9h1.2v1.3h-1.2zM26.8 17.9h1.2v1.3h-1.2zM26.8 27.6h1.2v1.3h-1.2zM4.5 29.6h1.2v1.3h-1.2zM4.5 31.5h1.2v1.3h-1.2zM26.8 35.4h1.2v1.3h-1.2z" fill="#eebb88"/>
<path d="M22.7 8.1h1.2v1.4h-1.2zM22.7 17.8h1.2v1.4h-1.2zM8.5 19.7h1.2v1.4h-1.2z" fill="#dd9955"/>
<path d="M30.8 10.1h1.1v1.2h-1.1zM0.4 12.1h1.1v1.2h-1.1zM0.4 14.0h1.1v1.2h-1.1zM0.4 19.9h1.1v1.2h-1.1zM30.8 19.9h1.1v1.2h-1.1zM30.8 31.5h1.1v1.2h-1.1z" fill="#ccaa99"/>
<path d="M6.5 12.0h1.2v1.3h-1.2zM6.5 15.9h1.2v1.3h-1.2zM24.7 15.9h1.2v1.3h-1.2zM24.7 17.8h1.2v1.3h-1.2zM6.5 19.8h1.2v1.3h-1.2zM24.7 27.6h1.2v1.3h-1.2zM24.7 29.5h1.2v1.3h-1.2zM24.7 31.5h1.2v1.3h-1.2zM6.5 33.4h1.2v1.3h-1.2zM24.7 35.4h1.2v1.3h-1.2z" fill="#ddaa66"/>
<path d="M22.7 11.9h1.2v1.4h-1.2zM22.7 21.7h1.2v1.4h-1.2zM8.5 23.6h1.2v1.4h-1.2z" fill="#ee9955"/>
<path d="M30.8 14.0h1.1v1.2h-1.1zM0.4 25.7h1.1v1.2h-1.1z" fill="#ddccaa"/>
<path d="M10.5 21.7h1.2v1.5h-1.2zM10.5 25.6h1.2v1.5h-1.2zM10.5 29.4h1.2v1.5h-1.2zM20.7 35.3h1.2v1.5h-1.2z" fill="#dd8844"/>
</g>
<g id="wp3">
<rect x="0" y="0" width="32.4" height="37.0" fill="#080503"/>
<path d="M0.5 0.4h1.2v1.5h-1.2zM16.6 0.4h1.2v1.5h-1.2zM18.6 0.3h1.2v1.5h-1.2zM22.7 0.3h1.2v1.5h-1.2zM26.6 0.4h1.5v1.1h-1.5zM30.6 0.4h1.5v1.1h-1.5zM22.7 2.2h1.2v1.5h-1.2zM22.4 4.4h1.5v1.1h-1.5zM24.5 4.4h1.5v1.1h-1.5zM26.5 4.3h1.5v1.1h-1.5zM28.6 4.3h1.5v1.1h-1.5zM26.5 6.3h1.5v1.1h-1.5zM30.6 8.2h1.5v1.1h-1.5zM28.5 10.2h1.5v1.1h-1.5zM26.4 12.2h1.5v1.1h-1.5zM28.5 17.9h1.5v1.1h-1.5zM30.6 19.9h1.5v1.1h-1.5zM30.6 21.8h1.5v1.1h-1.5zM28.5 25.7h1.5v1.1h-1.5zM26.5 27.6h1.5v1.1h-1.5zM28.5 27.6h1.5v1.1h-1.5zM24.4 29.5h1.5v1.1h-1.5zM26.5 29.6h1.5v1.1h-1.5zM28.6 29.6h1.5v1.1h-1.5zM26.5 31.5h1.5v1.1h-1.5zM22.4 33.4h1.5v1.1h-1.5zM24.5 33.5h1.5v1.1h-1.5zM30.6 33.5h1.5v1.1h-1.5zM30.6 35.5h1.5v1.1h-1.5z" fill="#dd9977"/>
<path d="M2.5 0.4h1.1v1.4h-1.1zM6.6 0.5h1.1v1.4h-1.1zM8.5 0.5h1.1v1.4h-1.1zM0.6 2.5h1.1v1.4h-1.1zM2.6 2.6h1.1v1.4h-1.1zM20.6 4.3h1.1v1.4h-1.1zM22.4 6.4h1.5v1.1h-1.5zM24.4 8.3h1.5v1.1h-1.5zM24.3 14.2h1.4v1.1h-1.4zM24.3 23.7h1.4v1.1h-1.4zM26.4 23.7h1.5v1.1h-1.5zM22.3 27.5h1.4v1.0h-1.4zM22.4 31.5h1.5v1.1h-1.5zM18.5 33.1h1.1v1.4h-1.1zM2.6 35.0h1.1v1.4h-1.1zM14.5 35.0h1.1v1.4h-1.1zM16.5 35.1h1.1v1.4h-1.1zM18.6 35.1h1.2v1.5h-1.2z" fill="#ee9977"/>
<path d="M4.5 0.5h1.1v1.4h-1.1zM4.6 2.6h1.1v1.4h-1.1zM6.6 2.7h1.1v1.3h-1.1zM8.6 2.7h1.1v1.3h-1.1zM16.5 2.4h1.1v1.4h-1.1zM18.5 4.4h1.1v1.4h-1.1zM26.4 19.9h1.5v1.1h-1.5zM22.3 29.5h1.5v1.1h-1.5zM20.3 31.4h1.4v1.1h-1.4zM12.5 35.0h1.1v1.4h-1.1z" fill="#dd9966"/>
<path d="M10.5 0.5h1.1v1.4h-1.1zM12.5 0.5h1.1v1.4h-1.1zM18.6 2.4h1.2v1.5h-1.2zM22.3 8.4h1.5v1.1h-1.5zM22.3 10.4h1.4v1.0h-1.4zM24.4 10.3h1.5v1.1h-1.5zM26.4 16.0h1.5v1.1h-1.5zM24.4 27.6h1.5v1.1h-1.5zM20.6 33.2h1.1v1.4h-1.1zM4.6 35.0h1.1v1.3h-1.1z" fill="#cc8866"/>
<path d="M14.6 0.4h1.2v1.4h-1.2zM20.3 6.5h1.4v1.1h-1.4zM24.5 6.3h1.5v1.1h-1.5zM30.6 6.3h1.5v1.1h-1.5zM30.6 12.1h1.5v1.1h-1.5zM26.4 14.1h1.5v1.1h-1.5zM28.5 16.0h1.5v1.1h-1.5zM26.4 25.7h1.5v1.1h-1.5zM30.6 27.7h1.5v1.1h-1.5zM0.6 35.1h1.1v1.4h-1.1zM20.6 35.2h1.2v1.5h-1.2zM22.7 35.2h1.2v1.5h-1.2z" fill="#eeaa77"/>
<path d="M20.6 0.3h1.2v1.5h-1.2zM26.6 2.4h1.5v1.1h-1.5zM30.6 2.4h1.5v1.1h-1.5zM30.6 10.2h1.5v1.1h-1.5zM28.5 12.1h1.5v1.1h-1.5zM28.5 21.8h1.5v1.1h-1.5zM28.5 23.8h1.5v1.1h-1.5zM30.6 23.8h1.5v1.1h-1.5zM26.5 33.5h1.5v1.1h-1.5zM28.6 33.5h1.5v1.1h-1.5z" fill="#ffaa88"/>
<path d="M24.5 0.4h1.5v1.1h-1.5zM28.6 0.4h1.5v1.1h-1.5zM20.6 2.3h1.2v1.5h-1.2zM24.5 2.4h1.5v1.1h-1.5zM28.6 2.4h1.5v1.1h-1.5zM30.6 4.3h1.5v1.1h-1.5zM28.6 6.3h1.5v1.1h-1.5zM28.6 8.2h1.5v1.1h-1.5zM26.5 10.2h1.5v1.1h-1.5zM30.6 16.0h1.5v1.1h-1.5zM30.6 17.9h1.5v1.1h-1.5zM30.6 25.7h1.5v1.1h-1.5zM30.6 29.6h1.5v1.1h-1.5zM24.5 31.5h1.5v1.1h-1.5zM28.6 31.6h1.5v1.1h-1.5zM30.6 31.6h1.5v1.1h-1.5zM26.6 35.4h1.5v1.1h-1.5z" fill="#eeaa88"/>
<path d="M10.6 2.7h1.1v1.3h-1.1zM16.4 6.7h1.0v1.3h-1.0zM20.1 10.6h1.3v1.0h-1.3zM22.2 25.6h1.4v1.0h-1.4zM20.1 27.4h1.3v1.0h-1.3zM18.1 29.2h1.3v0.9h-1.3zM20.2 29.4h1.4v1.0h-1.4zM18.4 31.1h1.0v1.3h-1.0zM2.7 32.9h1.0v1.3h-1.0zM8.6 34.9h1.0v1.3h-1.0z" fill="#cc8855"/>
<path d="M12.5 2.6h1.1v1.4h-1.1zM14.5 2.5h1.1v1.4h-1.1zM16.5 4.6h1.1v1.3h-1.1zM18.4 6.5h1.1v1.3h-1.1zM20.2 8.6h1.4v1.0h-1.4zM24.2 16.1h1.4v1.0h-1.4zM24.2 18.0h1.4v1.0h-1.4zM24.2 19.9h1.4v1.0h-1.4zM10.6 34.9h1.1v1.3h-1.1z" fill="#ee9966"/>
<path d="M0.7 4.6h1.1v1.3h-1.1zM2.7 4.7h1.0v1.3h-1.0zM22.2 12.4h1.4v1.0h-1.4zM24.3 12.2h1.5v1.1h-1.5zM26.4 18.0h1.5v1.1h-1.5zM24.2 21.8h1.4v1.0h-1.4zM24.3 25.6h1.5v1.1h-1.5zM0.7 33.0h1.1v1.3h-1.1zM16.5 33.0h1.1v1.3h-1.1zM6.6 34.9h1.1v1.3h-1.1z" fill="#dd8866"/>
<path d="M4.7 4.9h1.0v1.2h-1.0zM12.5 4.9h1.0v1.3h-1.0zM22.0 16.2h1.3v1.0h-1.3zM22.0 18.1h1.3v0.9h-1.3zM22.0 19.9h1.3v0.9h-1.3zM22.1 23.7h1.3v1.0h-1.3zM4.7 32.8h1.0v1.2h-1.0zM6.7 32.7h1.0v1.2h-1.0zM10.5 32.8h1.0v1.2h-1.0zM12.5 32.8h1.0v1.3h-1.0z" fill="#bb7755"/>
<path d="M6.7 5.0h1.0v1.2h-1.0zM8.6 5.0h1.0v1.2h-1.0zM14.5 4.7h1.0v1.3h-1.0zM0.9 6.7h1.0v1.2h-1.0zM18.1 8.8h1.3v0.9h-1.3zM22.1 14.3h1.3v1.0h-1.3zM0.9 31.0h1.0v1.2h-1.0zM14.5 32.9h1.0v1.3h-1.0z" fill="#cc7755"/>
<path d="M10.5 5.0h1.0v1.2h-1.0zM14.4 6.9h0.9v1.2h-0.9zM18.0 10.8h1.2v0.9h-1.2zM20.0 12.6h1.3v0.9h-1.3zM19.8 14.5h1.2v0.9h-1.2zM19.8 23.6h1.2v0.9h-1.2zM16.2 28.9h0.9v1.2h-0.9zM2.9 30.8h0.9v1.2h-0.9zM14.4 30.8h0.9v1.2h-0.9z" fill="#aa6644"/>
<path d="M2.9 7.0h0.9v1.2h-0.9zM20.0 25.5h1.3v0.9h-1.3zM16.4 31.0h1.0v1.3h-1.0zM8.6 32.7h1.0v1.2h-1.0z" fill="#bb7744"/>
<path d="M4.9 7.2h0.9v1.1h-0.9zM12.4 7.1h0.9v1.1h-0.9zM16.2 8.9h0.9v1.2h-0.9zM12.4 30.7h0.9v1.1h-0.9z" fill="#996644"/>
<path d="M6.8 7.3h0.9v1.1h-0.9zM8.7 7.3h0.9v1.1h-0.9zM10.5 7.3h0.9v1.1h-0.9zM1.1 8.9h0.9v1.2h-0.9zM19.7 18.2h1.1v0.8h-1.1zM19.7 19.9h1.1v0.8h-1.1zM17.8 25.3h1.1v0.8h-1.1zM18.0 27.2h1.2v0.9h-1.2z" fill="#995533"/>
<path d="M3.1 9.2h0.9v1.1h-0.9zM5.1 9.4h0.8v1.0h-0.8zM15.9 11.1h1.1v0.8h-1.1zM17.6 14.7h1.1v0.8h-1.1zM1.2 27.0h1.1v0.8h-1.1zM5.1 28.5h0.8v1.0h-0.8z" fill="#774422"/>
<path d="M6.9 9.6h0.8v1.0h-0.8zM10.5 9.6h0.8v1.0h-0.8zM3.4 11.4h0.8v1.0h-0.8zM1.5 13.2h1.0v0.8h-1.0zM15.7 13.1h1.0v0.8h-1.0zM17.5 16.5h1.0v0.8h-1.0zM17.4 21.7h1.0v0.8h-1.0zM1.6 25.0h1.0v0.8h-1.0zM14.0 26.6h0.8v1.0h-0.8zM12.3 28.5h0.8v1.0h-0.8z" fill="#663322"/>
<path d="M8.7 9.7h0.8v1.0h-0.8zM14.0 11.3h0.8v1.0h-0.8zM17.4 18.3h1.0v0.8h-1.0zM17.4 19.9h1.0v0.8h-1.0zM15.7 25.0h1.0v0.8h-1.0zM3.4 26.6h0.8v1.0h-0.8zM6.9 28.3h0.8v1.0h-0.8zM10.5 28.3h0.8v1.0h-0.8z" fill="#553322"/>
<path d="M12.3 9.4h0.8v1.0h-0.8zM17.6 23.4h1.1v0.8h-1.1z" fill="#664422"/>
<path d="M14.2 9.2h0.9v1.1h-0.9zM14.2 28.7h0.9v1.1h-0.9zM8.7 30.5h0.9v1.1h-0.9z" fill="#774433"/>
<path d="M26.5 8.2h1.5v1.1h-1.5zM28.5 14.1h1.5v1.1h-1.5zM30.6 14.0h1.5v1.1h-1.5zM28.5 19.9h1.5v1.1h-1.5zM24.5 35.4h1.5v1.1h-1.5zM28.6 35.5h1.5v1.1h-1.5z" fill="#cc9977"/>
<path d="M1.2 11.2h1.1v0.8h-1.1zM17.8 12.8h1.1v0.8h-1.1zM19.7 16.4h1.2v0.9h-1.2zM15.9 27.0h1.1v0.8h-1.1zM4.9 30.6h0.9v1.1h-0.9zM6.8 30.5h0.9v1.1h-0.9zM10.5 30.5h0.9v1.1h-0.9z" fill="#885533"/>
<path d="M5.3 11.7h0.7v0.9h-0.7zM12.1 11.6h0.7v0.9h-0.7zM1.8 15.0h1.0v0.7h-1.0zM15.4 15.0h1.0v0.7h-1.0zM1.8 23.2h1.0v0.7h-1.0zM15.4 23.2h1.0v0.7h-1.0zM5.3 26.3h0.7v0.9h-0.7zM12.1 26.4h0.7v0.9h-0.7z" fill="#442211"/>
<path d="M7.1 11.9h0.7v0.9h-0.7zM3.7 13.4h0.7v0.9h-0.7zM13.7 13.5h1.0v0.7h-1.0zM3.6 24.7h0.9v0.7h-0.9zM13.6 24.8h1.0v0.7h-1.0zM7.1 26.2h0.7v0.9h-0.7zM10.4 26.2h0.7v0.9h-0.7z" fill="#332211"/>
<path d="M8.7 11.9h0.7v0.9h-0.7zM2.2 18.4h0.9v0.7h-0.9zM15.1 18.4h0.9v0.7h-0.9zM2.2 19.9h0.9v0.7h-0.9zM15.1 19.9h0.9v0.7h-0.9zM15.2 21.5h0.9v0.7h-0.9zM8.7 26.1h0.7v0.9h-0.7z" fill="#221111"/>
<path d="M10.4 11.8h0.7v0.9h-0.7zM2.1 16.8h0.9v0.7h-0.9zM15.2 16.7h0.9v0.7h-0.9zM2.1 21.5h0.9v0.7h-0.9z" fill="#331111"/>
<path d="M5.6 13.7h0.7v0.9h-0.7zM11.9 13.7h0.7v0.9h-0.7zM13.4 15.3h0.9v0.7h-0.9zM3.9 22.9h0.9v0.7h-0.9zM11.9 24.4h0.7v0.9h-0.7z" fill="#221100"/>
<path d="M3.9 15.3h0.9v0.7h-0.9zM13.4 23.0h0.9v0.7h-0.9zM5.6 24.4h0.7v0.9h-0.7z" fill="#111100"/>
<path d="M19.7 21.7h1.2v0.9h-1.2zM1.1 28.9h0.9v1.2h-0.9z" fill="#996633"/>
<path d="M22.0 21.8h1.3v0.9h-1.3z" fill="#dd8855"/>
<path d="M26.4 21.8h1.5v1.1h-1.5z" fill="#ffaa77"/>
<path d="M3.2 28.7h0.9v1.1h-0.9z" fill="#884433"/>
<path d="M8.7 28.3h0.8v1.0h-0.8z" fill="#553311"/>
</g>
<g id="wp4">
<rect x="0" y="0" width="32.4" height="37.0" fill="#080503"/>
<path d="M0.5 0.3h1.2v1.5h-1.2zM2.5 0.3h1.2v1.5h-1.2zM6.5 0.4h1.2v1.5h-1.2zM8.6 0.4h1.2v1.4h-1.2zM18.6 0.3h1.2v1.5h-1.2zM24.7 0.3h1.2v1.5h-1.2zM26.7 0.2h1.2v1.5h-1.2zM28.6 0.4h1.5v1.1h-1.5zM18.6 2.4h1.1v1.4h-1.1zM26.5 2.4h1.5v1.1h-1.5zM30.6 2.4h1.5v1.1h-1.5zM18.5 4.5h1.1v1.4h-1.1zM24.5 4.4h1.5v1.1h-1.5zM30.6 4.3h1.5v1.1h-1.5zM22.4 6.5h1.5v1.1h-1.5zM24.4 6.4h1.5v1.1h-1.5zM24.3 10.4h1.4v1.1h-1.4zM28.5 10.2h1.5v1.1h-1.5zM30.6 10.2h1.5v1.1h-1.5zM28.5 12.1h1.5v1.1h-1.5zM28.4 18.0h1.5v1.1h-1.5zM30.5 23.8h1.5v1.1h-1.5zM30.5 25.7h1.5v1.1h-1.5zM30.6 27.6h1.5v1.1h-1.5zM28.5 29.6h1.5v1.1h-1.5zM26.5 31.5h1.5v1.1h-1.5zM30.6 31.6h1.5v1.1h-1.5zM22.4 33.3h1.5v1.1h-1.5zM24.4 33.4h1.5v1.1h-1.5zM26.5 33.5h1.5v1.1h-1.5z" fill="#cc8888"/>
<path d="M4.5 0.4h1.2v1.5h-1.2zM10.6 0.4h1.1v1.4h-1.1zM10.6 2.6h1.1v1.4h-1.1zM12.6 2.6h1.1v1.4h-1.1zM20.6 4.4h1.1v1.4h-1.1zM22.6 4.3h1.2v1.5h-1.2zM20.5 6.4h1.1v1.4h-1.1zM22.3 8.5h1.4v1.0h-1.4zM26.3 16.1h1.4v1.0h-1.4zM26.2 18.0h1.4v1.0h-1.4zM26.3 23.7h1.4v1.0h-1.4zM24.3 29.5h1.4v1.1h-1.4zM26.4 29.5h1.5v1.1h-1.5zM0.7 33.1h1.1v1.4h-1.1zM2.7 35.0h1.1v1.4h-1.1zM4.7 34.9h1.1v1.3h-1.1zM16.5 35.0h1.1v1.3h-1.1z" fill="#dd8888"/>
<path d="M12.6 0.4h1.2v1.5h-1.2zM14.6 0.4h1.2v1.5h-1.2zM16.6 0.4h1.2v1.5h-1.2zM0.5 2.3h1.2v1.5h-1.2zM2.5 2.4h1.1v1.4h-1.1zM16.6 2.4h1.1v1.4h-1.1zM0.6 4.4h1.1v1.4h-1.1zM26.5 6.3h1.5v1.1h-1.5zM24.4 8.4h1.5v1.1h-1.5zM26.5 8.3h1.5v1.1h-1.5zM28.5 8.2h1.5v1.1h-1.5zM26.4 10.3h1.5v1.1h-1.5zM28.4 14.1h1.5v1.1h-1.5zM28.4 16.0h1.5v1.1h-1.5zM30.5 16.0h1.5v1.1h-1.5zM30.5 17.9h1.5v1.1h-1.5zM30.5 19.9h1.5v1.1h-1.5zM28.4 21.8h1.5v1.1h-1.5zM30.5 21.8h1.5v1.1h-1.5zM28.4 23.8h1.5v1.1h-1.5zM28.4 25.7h1.5v1.1h-1.5zM26.4 27.6h1.5v1.1h-1.5zM28.5 31.5h1.5v1.1h-1.5zM0.6 35.1h1.1v1.4h-1.1zM26.5 35.4h1.5v1.1h-1.5z" fill="#ee9999"/>
<path d="M20.6 0.3h1.2v1.5h-1.2zM20.6 2.3h1.2v1.5h-1.2zM22.6 2.3h1.2v1.5h-1.2zM24.7 2.2h1.2v1.5h-1.2zM28.6 2.4h1.5v1.1h-1.5zM30.6 6.3h1.5v1.1h-1.5zM30.6 12.1h1.5v1.1h-1.5zM30.5 14.1h1.5v1.1h-1.5zM28.4 19.9h1.5v1.1h-1.5zM28.5 27.6h1.5v1.1h-1.5zM22.6 35.2h1.2v1.5h-1.2zM24.5 35.4h1.5v1.1h-1.5zM28.6 35.4h1.5v1.1h-1.5z" fill="#dd9999"/>
<path d="M22.7 0.3h1.2v1.5h-1.2zM26.5 4.3h1.5v1.1h-1.5zM28.6 6.3h1.5v1.1h-1.5z" fill="#cc9999"/>
<path d="M30.6 0.4h1.5v1.1h-1.5zM28.6 4.3h1.5v1.1h-1.5zM30.6 8.2h1.5v1.1h-1.5zM30.6 29.6h1.5v1.1h-1.5zM28.6 33.5h1.5v1.1h-1.5zM30.6 33.5h1.5v1.1h-1.5zM30.6 35.5h1.5v1.1h-1.5z" fill="#eeaaaa"/>
<path d="M4.6 2.5h1.1v1.4h-1.1zM14.6 2.5h1.1v1.4h-1.1zM2.6 4.5h1.1v1.4h-1.1zM26.3 14.2h1.4v1.1h-1.4zM26.3 25.7h1.4v1.1h-1.4zM18.5 35.0h1.1v1.4h-1.1z" fill="#ee8888"/>
<path d="M6.6 2.5h1.1v1.4h-1.1zM8.6 2.6h1.1v1.4h-1.1zM4.7 4.6h1.1v1.3h-1.1zM8.7 4.8h1.0v1.3h-1.0zM12.6 4.8h1.0v1.3h-1.0zM16.5 4.6h1.1v1.3h-1.1zM2.8 6.6h1.0v1.3h-1.0zM0.9 8.6h1.0v1.3h-1.0zM26.4 12.2h1.5v1.1h-1.5zM24.1 16.2h1.3v1.0h-1.3zM26.2 21.8h1.4v1.0h-1.4zM24.2 27.5h1.4v1.0h-1.4zM22.2 29.4h1.3v1.0h-1.3zM20.2 31.2h1.3v1.0h-1.3zM22.3 31.4h1.4v1.0h-1.4zM24.4 31.4h1.5v1.1h-1.5zM18.4 33.0h1.0v1.3h-1.0zM20.5 33.1h1.1v1.4h-1.1zM20.6 35.1h1.1v1.4h-1.1z" fill="#cc7777"/>
<path d="M6.7 4.7h1.0v1.3h-1.0zM16.4 6.8h1.0v1.2h-1.0zM18.5 6.6h1.0v1.3h-1.0zM20.4 8.5h1.0v1.3h-1.0zM22.2 10.5h1.4v1.0h-1.4zM24.2 14.3h1.3v1.0h-1.3zM24.0 18.1h1.3v0.9h-1.3zM24.0 20.0h1.3v0.9h-1.3zM24.0 21.8h1.3v0.9h-1.3zM24.1 25.6h1.3v1.0h-1.3zM20.1 29.2h1.3v0.9h-1.3zM0.9 31.0h1.0v1.3h-1.0zM2.8 33.0h1.0v1.3h-1.0zM4.9 32.8h1.0v1.2h-1.0zM6.7 34.9h1.0v1.3h-1.0zM10.6 34.8h1.0v1.3h-1.0z" fill="#bb6666"/>
<path d="M10.6 4.8h1.0v1.3h-1.0zM8.7 34.8h1.0v1.3h-1.0zM12.6 34.8h1.0v1.3h-1.0z" fill="#cc6666"/>
<path d="M14.5 4.7h1.0v1.3h-1.0zM24.2 12.4h1.4v1.0h-1.4zM26.2 19.9h1.4v1.0h-1.4zM14.5 34.9h1.0v1.3h-1.0z" fill="#dd7777"/>
<path d="M0.7 6.5h1.1v1.4h-1.1z" fill="#bb7777"/>
<path d="M4.8 6.8h1.0v1.2h-1.0zM6.8 7.0h0.9v1.2h-0.9zM12.6 7.1h0.9v1.2h-0.9zM18.3 8.8h1.0v1.2h-1.0zM20.1 10.8h1.3v0.9h-1.3zM22.1 12.5h1.3v0.9h-1.3zM24.1 23.7h1.3v1.0h-1.3zM21.9 25.5h1.2v0.9h-1.2zM22.1 27.4h1.3v0.9h-1.3zM18.3 30.9h1.0v1.2h-1.0zM16.4 32.8h1.0v1.2h-1.0z" fill="#aa5555"/>
<path d="M8.8 7.1h0.9v1.2h-0.9zM14.5 7.0h1.0v1.2h-1.0zM3.0 8.8h1.0v1.2h-1.0zM1.0 10.8h1.2v0.9h-1.2zM21.9 14.5h1.2v0.9h-1.2zM1.0 29.2h1.2v0.9h-1.2zM6.8 32.7h0.9v1.2h-0.9zM8.8 32.6h0.9v1.2h-0.9zM12.6 32.6h0.9v1.2h-0.9z" fill="#995555"/>
<path d="M10.7 7.1h0.9v1.2h-0.9zM21.8 23.6h1.2v0.9h-1.2zM1.2 27.2h1.2v0.9h-1.2zM16.3 30.7h0.9v1.1h-0.9z" fill="#994444"/>
<path d="M5.0 9.1h0.9v1.1h-0.9zM16.3 9.0h0.9v1.1h-0.9zM3.3 11.0h0.9v1.1h-0.9zM18.1 10.9h0.9v1.1h-0.9zM19.9 12.8h1.2v0.9h-1.2zM21.8 16.4h1.2v0.9h-1.2zM21.7 18.2h1.2v0.8h-1.2zM19.9 27.2h1.2v0.9h-1.2zM3.3 28.8h0.9v1.1h-0.9zM18.1 28.9h0.9v1.1h-0.9zM5.1 30.7h0.9v1.1h-0.9zM7.0 30.5h0.9v1.1h-0.9zM10.7 32.6h0.9v1.2h-0.9z" fill="#884444"/>
<path d="M7.0 9.3h0.9v1.1h-0.9zM8.9 9.4h0.8v1.1h-0.8zM14.4 9.3h0.9v1.1h-0.9zM5.3 11.3h0.8v1.0h-0.8zM21.7 20.0h1.1v0.8h-1.1zM1.5 25.3h1.1v0.8h-1.1zM19.7 25.3h1.1v0.8h-1.1zM8.9 30.4h0.8v1.0h-0.8zM14.4 30.5h0.9v1.1h-0.9z" fill="#773333"/>
<path d="M10.7 9.5h0.8v1.0h-0.8zM12.5 9.4h0.8v1.1h-0.8zM16.1 11.2h0.8v1.0h-0.8zM1.5 14.8h1.1v0.8h-1.1zM19.7 14.8h1.1v0.8h-1.1zM19.6 16.6h1.1v0.8h-1.1zM19.5 23.5h1.1v0.8h-1.1zM5.3 28.6h0.8v1.0h-0.8zM16.1 28.6h0.8v1.0h-0.8zM10.7 30.4h0.8v1.0h-0.8zM12.5 30.4h0.8v1.1h-0.8z" fill="#663333"/>
<path d="M7.2 11.5h0.8v1.0h-0.8zM14.2 11.5h0.8v1.0h-0.8zM3.4 13.2h1.1v0.8h-1.1zM1.7 16.6h1.0v0.8h-1.0zM1.9 18.4h1.0v0.7h-1.0zM19.4 18.4h1.0v0.8h-1.0zM1.9 20.1h1.0v0.7h-1.0zM19.4 21.8h1.0v0.8h-1.0zM1.7 23.5h1.0v0.8h-1.0zM3.4 27.0h1.1v0.8h-1.1zM7.2 28.4h0.8v1.0h-0.8zM14.2 28.4h0.8v1.0h-0.8z" fill="#552222"/>
<path d="M9.0 11.7h0.8v0.9h-0.8zM10.7 11.8h0.7v0.9h-0.7zM12.5 11.7h0.8v1.0h-0.8zM5.6 13.4h0.8v0.9h-0.8zM15.9 13.3h0.8v1.0h-0.8zM3.7 15.1h1.0v0.7h-1.0zM17.6 15.1h1.0v0.7h-1.0zM19.4 20.1h1.0v0.8h-1.0zM1.9 21.8h1.0v0.7h-1.0zM3.7 25.1h1.0v0.7h-1.0zM17.6 25.1h1.0v0.7h-1.0z" fill="#442222"/>
<path d="M1.2 12.8h1.2v0.9h-1.2zM21.7 21.8h1.2v0.8h-1.2z" fill="#774444"/>
<path d="M7.5 13.7h0.7v0.9h-0.7zM12.4 13.9h0.7v0.9h-0.7zM14.1 13.6h0.7v0.9h-0.7zM5.8 15.4h0.9v0.7h-0.9zM15.6 15.4h0.9v0.7h-0.9zM4.2 18.6h0.9v0.7h-0.9zM17.2 18.5h0.9v0.7h-0.9zM4.2 20.1h0.9v0.7h-0.9zM17.2 20.1h0.9v0.7h-0.9zM4.2 21.7h0.9v0.7h-0.9zM17.2 21.7h0.9v0.7h-0.9zM5.8 24.8h0.9v0.7h-0.9zM15.5 24.8h0.9v0.7h-0.9zM7.5 26.3h0.7v0.9h-0.7z" fill="#221111"/>
<path d="M9.2 13.9h0.7v0.9h-0.7zM9.2 26.1h0.7v0.9h-0.7zM12.4 26.1h0.7v0.9h-0.7z" fill="#111111"/>
<path d="M10.8 14.0h0.7v0.9h-0.7zM15.3 17.1h0.9v0.6h-0.9zM10.8 26.1h0.7v0.9h-0.7z" fill="#110000"/>
<path d="M17.8 13.1h1.1v0.8h-1.1zM17.8 27.0h1.1v0.8h-1.1z" fill="#662222"/>
<path d="M4.0 16.9h0.9v0.7h-0.9zM17.4 16.9h1.0v0.7h-1.0zM4.0 23.3h0.9v0.7h-0.9zM17.3 23.3h1.0v0.7h-1.0zM14.0 26.3h0.7v0.9h-0.7zM10.7 28.2h0.7v0.9h-0.7z" fill="#331111"/>
<path d="M5.6 26.6h0.7v0.9h-0.7zM15.9 26.6h0.8v1.0h-0.8zM9.0 28.2h0.7v0.9h-0.7zM12.5 28.2h0.8v0.9h-0.8z" fill="#441111"/>
<path d="M3.0 30.9h0.9v1.2h-0.9zM14.5 32.7h0.9v1.2h-0.9z" fill="#bb5555"/>
</g></defs>
<use href="#wp1" transform="matrix(0.9969 0.1173 0 0.9892 21.5 178)"/>
<use href="#wp2" transform="matrix(0.9722 0.1235 0 1.0108 53.8 175.8)"/>
<use href="#wp3" transform="matrix(1.0093 0.1543 0 0.9946 85.3 172.6)"/>
<use href="#wp4" transform="matrix(0.9691 0.1358 0 0.9946 118 172.4)"/>
<path d="M20.5 167.4 L122 162.3" stroke="#000" stroke-width="2" fill="none"/>
<path d="M134 161.6 L118.2 156.5 L121.6 162.3 L118.8 167.8 Z" fill="#000"/>
<text x="78.8" y="157.5" font-size="15" font-weight="bold" fill="#000" text-anchor="middle">λ</text>
<path d="M151 193.5 L158 193.4" stroke="#000" stroke-width="1.9"/>
<path d="M168.4 181.7 L234.4 178.6 C239.5 178.4 242.6 183 242.6 188.2 C242.6 193.5 240 198.2 235.7 198.5 L169 202.9 Z" fill="url(#gFiber)" stroke="#000" stroke-width="1.5" stroke-linejoin="round"/>
<g><clipPath id="cFib"><ellipse cx="168.2" cy="192.3" rx="10.8" ry="10.6"/></clipPath>
<ellipse cx="168.2" cy="192.3" rx="10.8" ry="10.6" fill="#6f9fe8"/>
<rect x="157" y="181" width="23" height="23" filter="url(#fFib)" clip-path="url(#cFib)" opacity="0.75"/>
<ellipse cx="168.2" cy="192.3" rx="10.8" ry="10.6" fill="none" stroke="#000" stroke-width="1.6"/></g>
<path d="M242.6 187.9 L250.5 187.7" stroke="#000" stroke-width="1.9"/>
<text x="153.3" y="177.7" font-size="12.2" font-weight="bold" fill="#000" textLength="94.8" lengthAdjust="spacingAndGlyphs" transform="rotate(-1.95 153.3 177.7)">Multicore Fiber</text>
<path d="M272.3 152.75 L314.8 150.5 C323.5 150.3 331.5 156.5 335.4 166.5 C337.6 172.5 338.8 178.5 338.6 184.2 L326.4 209.6 L279.1 213.95 C262 200 262 165 272.3 152.75 Z" fill="url(#gBarrel)" stroke="#000" stroke-width="1.3" stroke-linejoin="round"/>
<path d="M257 162.1 C261 156 266 153.2 272.3 152.75 L280.8 152.2 C290 153.5 297.8 160 300.3 170 C302.6 179 302.6 187 300.3 195 C297.8 204 293 210 285.9 212.25 L279.1 213.95 L270.6 209.7 Z" fill="url(#gCollar)" stroke="#000" stroke-width="1.3" stroke-linejoin="round"/>
<ellipse cx="270.2" cy="185.1" rx="20" ry="23.8" fill="#e4e4e2" stroke="#000" stroke-width="1.4"/>
<ellipse cx="270.2" cy="185.5" rx="17.4" ry="20.8" fill="url(#gLens)" stroke="#000" stroke-width="1.3"/>
<path d="M257.9 186.3 L265.8 186.1" stroke="#000" stroke-width="2.1"/>
<path d="M341.6 181.4 L348.7 181.2" stroke="#000" stroke-width="2.2"/>
<ellipse cx="392.4" cy="179.9" rx="31.9" ry="39.1" fill="url(#gRim)" stroke="#000" stroke-width="1.3"/>
<ellipse cx="384.4" cy="179.7" rx="31.9" ry="39.2" fill="url(#gLens)" stroke="#000" stroke-width="1.3"/>
<path d="M356.9 181 L365 180.7 M372 180.3 L380 180" stroke="#000" stroke-width="2.2"/>
<path d="M424.4 176.3 L431.2 176.1" stroke="#000" stroke-width="2"/>
<path d="M269.7 145 L269.7 137 L387.8 130.3 L387.8 136.8" stroke="#000" stroke-width="1.1" fill="none"/>
<text x="295" y="131.2" font-size="12.2" font-weight="bold" fill="#000" textLength="75" lengthAdjust="spacingAndGlyphs" transform="rotate(-2.6 295 131.2)">Relay lenses</text>
<path d="M437.8 107.6 L530.5 120.4 L530.5 233.6 L437.8 221.2 Z" fill="url(#gCam)"/>
<clipPath id="cCam"><path d="M437.8 107.6 L530.5 120.4 L530.5 233.6 L437.8 221.2 Z"/></clipPath>
<rect x="437" y="107" width="94" height="127" filter="url(#fCamNoise)" clip-path="url(#cCam)" opacity="0.16"/>
<g transform="matrix(1 0.1345 0 1 0 -58.88)" clip-path="none"><rect x="437.8" y="200" width="92.7" height="21.8" fill="url(#gCamBottom)"/><rect x="437.8" y="107.6" width="92.7" height="18.4" fill="url(#gCamTop)"/></g>
<path d="M530.5 120.6 L548.6 119.6 L548.6 235.8 L530.5 233.6 Z" fill="#6e6e6e"/>
<path d="M437.8 108.2 L441 105.5 L548.6 119.2 L530.5 121.2 Z" fill="#d2d2d2"/>
<path d="M438.5 176.5 L447 176.2 M454 175.9 L462.5 175.6 M469.5 175.3 L478 175" stroke="#000" stroke-width="2"/>
<path d="M392.3 139.5 L392.3 109.2 L485.6 122 L485.6 236.3 L392.3 222.3" stroke="#e8202a" stroke-width="1.1" stroke-dasharray="3.2 2.6" fill="none"/>
<path d="M486.6 236.2 L528.4 235" stroke="#cc1016" stroke-width="1.8"/>
<path d="M492 230.8 L485.8 236.2 L492.4 241.2 M522.8 230 L529.3 235 L523.2 240.3" stroke="#cc1016" stroke-width="1.8" fill="none"/>
<text x="510.5" y="251.8" font-size="12.5" font-weight="bold" fill="#000" text-anchor="middle">d</text>
<text x="465" y="104.8" font-size="12.2" font-weight="bold" fill="#000" textLength="83.6" lengthAdjust="spacingAndGlyphs" transform="rotate(7.6 465 104.8)">Camera sensor</text>
<text x="386.8" y="238" font-size="12.2" font-weight="bold" fill="#000" textLength="101.5" lengthAdjust="spacingAndGlyphs" transform="rotate(8.4 386.8 238)">Image of the MCF</text>
<text x="398.5" y="257.4" font-size="12.2" font-weight="bold" fill="#000" textLength="73.5" lengthAdjust="spacingAndGlyphs" transform="rotate(8.4 398.5 257.4)">output plane</text>
<text x="440.3" y="213.5" font-size="11.8" font-weight="bold" fill="#fff" textLength="38.8" lengthAdjust="spacingAndGlyphs" transform="rotate(5.5 440.3 213.5)" font-style="italic">100 µm</text>
<rect x="452" y="217.6" width="14.2" height="4.3" rx="1.6" fill="#fff" transform="rotate(7 452 217.6)"/>
<rect x="30.3" y="312.0" width="124.00000000000001" height="124.0" rx="8" ry="8" fill="#e7e7e7" stroke="#000" stroke-width="1.9"/>
<rect x="181.8" y="252.2" width="194.89999999999998" height="93.40000000000003" rx="8" ry="8" fill="#e7e7e7" stroke="#000" stroke-width="1.9"/>
<rect x="174.7" y="367.6" width="208.0" height="68.19999999999999" rx="8" ry="8" fill="#a8c8fa" stroke="#000" stroke-width="1.9"/>
<rect x="403.4" y="327.2" width="149.5" height="108.60000000000002" rx="8" ry="8" fill="#e7e7e7" stroke="#000" stroke-width="1.9"/>
<text x="92.2" y="327.8" font-size="12.2" font-weight="bold" fill="#000" text-anchor="middle" textLength="92.5" lengthAdjust="spacingAndGlyphs">(i) Multiplexed</text>
<text x="93.8" y="339.8" font-size="12.2" font-weight="bold" fill="#000" text-anchor="middle" textLength="63" lengthAdjust="spacingAndGlyphs">image (M)</text>
<clipPath id="cr1"><rect x="49.6" y="347" width="85.8" height="84.7"/></clipPath>
<g clip-path="url(#cr1)"><rect x="44" y="342" width="97" height="96" filter="url(#fGray)"/></g>
<text x="99.3" y="420.2" font-size="11.5" font-weight="bold" fill="#fff" textLength="34.4" lengthAdjust="spacingAndGlyphs">20 µm</text>
<rect x="105.8" y="422.2" width="20.9" height="4.7" rx="0.8" fill="#fff"/>
<path d="M155 398.8 L163 398.8 L163 396.3 L174.3 403.2 L163 410.1 L163 407.6 L155 407.6 Z" fill="#000"/>
<text x="280.1" y="265.6" font-size="12.2" font-weight="bold" fill="#000" text-anchor="middle" textLength="165" lengthAdjust="spacingAndGlyphs">(ii) Reference patterns (R<tspan font-size="8.5" dy="2.5">i</tspan><tspan dy="-2.5">)</tspan></text>
<rect x="302.3" y="273.1" width="49.4" height="49.8" fill="#ffffff"/>
<clipPath id="cr2"><rect x="303.4" y="274.2" width="47.2" height="47.6"/></clipPath>
<g clip-path="url(#cr2)"><rect x="298" y="269" width="59" height="59" filter="url(#fR)"/></g>
<rect x="267.5" y="276.7" width="50.2" height="50.0" fill="#ffffff"/>
<clipPath id="cr3"><rect x="268.6" y="277.8" width="48.0" height="47.8"/></clipPath>
<g clip-path="url(#cr3)"><rect x="263" y="272" width="60" height="59" filter="url(#fRO)"/></g>
<rect x="232.5" y="280.6" width="51.2" height="49.7" fill="#ffffff"/>
<clipPath id="cr4"><rect x="233.6" y="281.7" width="49.0" height="47.5"/></clipPath>
<g clip-path="url(#cr4)"><rect x="228" y="276" width="61" height="59" filter="url(#fO)"/></g>
<rect x="197.6" y="284.2" width="50.9" height="50.3" fill="#ffffff"/>
<clipPath id="cr5"><rect x="198.7" y="285.3" width="48.7" height="48.1"/></clipPath>
<g clip-path="url(#cr5)"><rect x="193" y="280" width="60" height="60" filter="url(#fY)"/></g>
<text x="212" y="325" font-size="10" font-weight="bold" fill="#fff" textLength="32" lengthAdjust="spacingAndGlyphs">20 µm</text>
<rect x="223" y="327.9" width="11" height="2.5" fill="#fff"/>
<path d="M310 329.3 L352 324.8" stroke="#000" stroke-width="1.4"/>
<path d="M362.6 323.6 L351 320.6 L353.8 324.6 L352 329.6 Z" fill="#000"/>
<text x="326.3" y="342" font-size="11.5" font-weight="bold" fill="#000" text-anchor="middle">λ</text>
<path d="M274 345.6 L284 345.6 L284 355.5 L286.6 355.5 L279 366.4 L271.4 355.5 L274 355.5 Z" fill="#000"/>
<text x="276.6" y="383" font-size="12.2" font-weight="bold" fill="#000" text-anchor="middle" textLength="118.5" lengthAdjust="spacingAndGlyphs">(iii) Physical model</text>
<path d="M383 397.6 L392.6 397.6 L392.6 394.6 L403.2 402.4 L392.6 410.2 L392.6 407.2 L383 407.2 Z" fill="#000"/>
<text x="477.0" y="342.3" font-size="12.2" font-weight="bold" fill="#000" text-anchor="middle" textLength="124" lengthAdjust="spacingAndGlyphs">(iv) Wavefronts (<tspan font-style="italic">φ</tspan><tspan font-size="8.5" dy="2.5">i</tspan><tspan dy="-2.5">)</tspan></text>
<use href="#wp1" transform="matrix(1.0031 0.1296 0 0.9757 414.1 364)"/>
<use href="#wp2" transform="matrix(0.9722 0.1327 0 0.9946 446.6 361.7)"/>
<use href="#wp3" transform="matrix(1.0154 0.1698 0 1.0108 478.1 358.5)"/>
<use href="#wp4" transform="matrix(0.9506 0.1512 0 0.9649 511 358.5)"/>
<path d="M425.5 416 L528 410.4" stroke="#000" stroke-width="2"/>
<path d="M538.6 409.3 L522.4 404.4 L528.4 410.2 L523.2 415 Z" fill="#000"/>
<text x="484.6" y="428.4" font-size="12.5" font-weight="bold" fill="#000" text-anchor="middle">λ</text>
<text x="176.6" y="412.2" font-size="10.8" fill="#141414" font-family='"Liberation Serif", serif' font-style="italic" font-weight="bold" textLength="11.6" lengthAdjust="spacingAndGlyphs">M</text>
<path d="M191.2 407.5 H199.5 M191.2 410.7 H199.5" stroke="#141414" stroke-width="1.15"/>
<path d="M218.9 400.4 L218.6 397.5 L204.6 397.5 L212.2 408 L204.4 418.7 L218.9 418.7 L219.4 415.6" fill="none" stroke="#141414" stroke-width="1.2" stroke-linejoin="miter"/>
<path d="M204.6 397.5 L212.2 408" stroke="#141414" stroke-width="2.1"/>
<text x="211.9" y="427.8" font-size="8" fill="#141414" font-family='"Liberation Serif", serif' font-style="italic" font-weight="normal" text-anchor="middle">i</text>
<text x="222.0" y="412.5" font-size="14.5" fill="#e8323c" font-family='"Liberation Serif", serif' font-style="italic" font-weight="bold" textLength="7.8" lengthAdjust="spacingAndGlyphs">α</text>
<text x="229.8" y="414.09999999999997" font-size="8" fill="#e8323c" font-family='"Liberation Serif", serif' font-style="italic" font-weight="normal">i</text>
<circle cx="234.6" cy="411.5" r="0.85" fill="#141414"/>
<text x="237.9" y="412.2" font-size="10.8" fill="#141414" font-family='"Liberation Serif", serif' font-style="italic" font-weight="bold" textLength="7.4" lengthAdjust="spacingAndGlyphs">R</text>
<text x="245.9" y="414.09999999999997" font-size="8" fill="#141414" font-family='"Liberation Serif", serif' font-style="italic" font-weight="bold">i</text>
<path d="M258 392.2 C252.8 401 252.8 416.2 258 425" fill="none" stroke="#141414" stroke-width="1.15"/>
<path d="M375.8 392.2 C381 401 381 416.2 375.8 425" fill="none" stroke="#141414" stroke-width="1.15"/>
<text x="258.2" y="412.5" font-size="13.5" fill="#141414" font-family='"Liberation Serif", serif' font-style="italic" font-weight="normal" textLength="5.8" lengthAdjust="spacingAndGlyphs">x</text>
<path d="M267.59999999999997 409.3 H274.8 M271.2 405.7 V412.9" stroke="#141414" stroke-width="1.1"/>
<text x="279.4" y="404.8" font-size="11.8" fill="#141414" font-family='"Liberation Serif", serif' font-style="italic" font-weight="normal" textLength="6.4" lengthAdjust="spacingAndGlyphs">d</text>
<path d="M278.2 407.7 H288.2" stroke="#141414" stroke-width="1"/>
<text x="278.09999999999997" y="419.9" font-size="11.8" fill="#141414" font-family='"Liberation Serif", serif' font-style="italic" font-weight="normal" textLength="6.0" lengthAdjust="spacingAndGlyphs">k</text>
<text x="284.5" y="422.1" font-size="7.6" fill="#141414" font-family='"Liberation Serif", serif' font-style="normal" font-weight="normal" textLength="3.7" lengthAdjust="spacingAndGlyphs">0</text>
<circle cx="290.3" cy="411.3" r="0.8" fill="#141414"/>
<text x="294.0" y="404.8" font-size="11.5" fill="#141414" font-family='"Liberation Serif", serif' font-style="normal" font-weight="normal" textLength="6.0" lengthAdjust="spacingAndGlyphs">∂</text>
<text x="300.7" y="404.8" font-size="12" fill="#e8323c" font-family='"Liberation Serif", serif' font-style="italic" font-weight="bold" textLength="7.6" lengthAdjust="spacingAndGlyphs">φ</text>
<text x="309.2" y="405.4" font-size="8.5" fill="#e8323c" font-family='"Liberation Serif", serif' font-style="italic" font-weight="bold">i</text>
<path d="M293.7 407.7 H313.09999999999997" stroke="#141414" stroke-width="1"/>
<text x="297.09999999999997" y="419.9" font-size="11.5" fill="#141414" font-family='"Liberation Serif", serif' font-style="normal" font-weight="normal" textLength="5.8" lengthAdjust="spacingAndGlyphs">∂</text>
<text x="303.3" y="419.9" font-size="13" fill="#141414" font-family='"Liberation Serif", serif' font-style="italic" font-weight="normal" textLength="6.4" lengthAdjust="spacingAndGlyphs">x</text>
<text x="314.6" y="412.0" font-size="12" fill="#141414" font-family='"Liberation Serif", serif' font-style="normal" font-weight="normal">,</text>
<text x="318.6" y="412.5" font-size="13.5" fill="#141414" font-family='"Liberation Serif", serif' font-style="italic" font-weight="normal" textLength="7" lengthAdjust="spacingAndGlyphs">y</text>
<path d="M330.4 409.3 H337.6 M334.0 405.7 V412.9" stroke="#141414" stroke-width="1.1"/>
<text x="341.3" y="404.8" font-size="11.8" fill="#141414" font-family='"Liberation Serif", serif' font-style="italic" font-weight="normal" textLength="6.4" lengthAdjust="spacingAndGlyphs">d</text>
<path d="M340.1 407.7 H350.1" stroke="#141414" stroke-width="1"/>
<text x="340.0" y="419.9" font-size="11.8" fill="#141414" font-family='"Liberation Serif", serif' font-style="italic" font-weight="normal" textLength="6.0" lengthAdjust="spacingAndGlyphs">k</text>
<text x="346.40000000000003" y="422.1" font-size="7.6" fill="#141414" font-family='"Liberation Serif", serif' font-style="normal" font-weight="normal" textLength="3.7" lengthAdjust="spacingAndGlyphs">0</text>
<circle cx="352.3" cy="411.3" r="0.8" fill="#141414"/>
<text x="355.8" y="404.8" font-size="11.5" fill="#141414" font-family='"Liberation Serif", serif' font-style="normal" font-weight="normal" textLength="6.0" lengthAdjust="spacingAndGlyphs">∂</text>
<text x="362.5" y="404.8" font-size="12" fill="#e8323c" font-family='"Liberation Serif", serif' font-style="italic" font-weight="bold" textLength="7.6" lengthAdjust="spacingAndGlyphs">φ</text>
<text x="371.0" y="405.4" font-size="8.5" fill="#e8323c" font-family='"Liberation Serif", serif' font-style="italic" font-weight="bold">i</text>
<path d="M355.5 407.7 H374.9" stroke="#141414" stroke-width="1"/>
<text x="358.9" y="419.9" font-size="11.5" fill="#141414" font-family='"Liberation Serif", serif' font-style="normal" font-weight="normal" textLength="5.8" lengthAdjust="spacingAndGlyphs">∂</text>
<text x="365.1" y="419.9" font-size="13" fill="#141414" font-family='"Liberation Serif", serif' font-style="italic" font-weight="normal" textLength="6.4" lengthAdjust="spacingAndGlyphs">y</text>
<rect x="611.7" y="141.5" width="158.5999999999999" height="96.19999999999999" fill="#fff"/>
<g fill="none" stroke-linejoin="round" stroke-linecap="butt">
<path d="M617.7 209.8 L619.2 208.1 L620.6 206.2 L622.1 206.5 L623.6 202.6 L625.1 204.0 L626.5 201.8 L628.0 200.0 L629.4 200.6 L630.8 196.7 L632.1 198.4 L633.5 197.6 L634.9 194.6 L636.2 195.5 L637.6 193.7 L639.0 192.3 L640.3 193.5 L641.6 191.1 L642.9 190.7 L644.2 190.9 L645.5 187.3 L646.8 188.4 L648.1 189.5 L649.4 185.2 L650.7 186.3 L652.0 186.1 L653.3 182.4 L654.6 184.6 L655.9 183.6 L657.2 181.2 L658.5 183.0 L659.8 180.8 L661.1 179.2 L662.4 181.5 L663.7 178.4 L665.0 177.4 L666.5 179.8 L668.0 175.8 L669.5 178.1 L671.0 175.1 L672.5 175.5 L674.0 176.3 L675.3 171.8 L676.6 173.6 L678.0 173.3 L679.3 170.4 L680.6 172.6 L682.1 168.9 L683.5 167.5 L685.0 166.9 L686.8 159.8 L688.5 155.4 L690.3 147.9 L691.5 145.7 L692.7 148.1 L694.5 154.8 L696.2 160.7 L698.0 165.1 L699.5 168.6 L701.0 167.3 L702.5 170.0 L704.0 171.3 L705.4 170.8 L706.9 174.3 L708.3 171.8 L709.7 174.0 L711.1 175.4 L712.6 174.1 L714.0 177.5 L715.4 176.1 L716.7 176.7 L718.0 179.2 L719.4 177.2 L720.8 180.1 L722.1 182.3 L723.4 179.8 L724.8 182.8 L726.3 182.5 L727.7 182.9 L729.2 187.0 L730.6 184.7 L732.1 187.5 L733.5 188.4 L735.0 187.1 L736.3 191.1 L737.6 190.2 L739.0 190.9 L740.3 193.8 L741.6 191.6 L743.0 194.4 L744.3 196.8 L745.6 193.8 L746.9 198.2 L748.3 198.7 L749.6 197.9 L751.0 201.5 L752.3 200.6 L753.7 200.8 L755.0 204.3 L756.5 202.2 L757.9 204.8 L759.4 206.6 L760.9 205.7 L762.3 209.1 L763.8 209.0" stroke="#ffe000" stroke-width="2.9"/>
<path d="M617.7 220.9 L619.2 218.5 L620.6 218.5 L622.1 216.2 L623.6 215.1 L625.1 215.7 L626.5 212.9 L628.0 211.3 L629.4 212.3 L630.8 209.7 L632.1 208.7 L633.5 209.1 L634.9 206.9 L636.2 205.7 L637.6 206.9 L639.0 204.8 L640.3 203.3 L641.6 203.8 L642.9 201.9 L644.2 199.6 L645.5 200.1 L646.8 199.0 L648.1 196.8 L649.4 197.0 L650.7 196.8 L652.0 194.4 L653.3 193.9 L654.6 194.4 L655.9 191.7 L657.2 190.5 L658.5 191.7 L659.8 189.5 L661.1 188.1 L662.4 189.5 L663.7 187.9 L665.0 185.1 L666.5 186.6 L668.0 184.9 L669.5 182.7 L671.0 183.9 L672.5 181.4 L674.0 180.1 L675.3 180.3 L676.6 178.4 L678.0 176.6 L679.3 176.6 L680.6 175.1 L682.1 171.6 L683.5 170.2 L685.0 166.9 L686.8 160.9 L688.5 155.3 L690.3 147.9 L691.5 145.7 L692.7 148.1 L694.5 154.8 L696.2 161.6 L698.0 166.5 L699.5 169.3 L701.0 172.5 L702.5 173.0 L704.0 176.4 L705.4 177.6 L706.9 177.2 L708.3 180.4 L709.7 181.0 L711.1 181.3 L712.6 183.8 L714.0 185.2 L715.4 184.1 L716.7 187.3 L718.0 187.9 L719.4 187.0 L720.8 189.5 L722.1 190.7 L723.4 189.8 L724.8 191.8 L726.3 193.2 L727.7 192.6 L729.2 195.5 L730.6 196.2 L732.1 195.1 L733.5 198.6 L735.0 198.9 L736.3 198.6 L737.6 200.4 L739.0 201.6 L740.3 200.1 L741.6 202.8 L743.0 203.8 L744.3 202.7 L745.6 205.0 L746.9 206.2 L748.3 205.6 L749.6 207.4 L751.0 209.0 L752.3 208.1 L753.7 209.7 L755.0 211.8 L756.5 211.3 L757.9 211.9 L759.4 214.5 L760.9 213.4 L762.3 215.6 L763.8 216.4" stroke="#f59522" stroke-width="2.7"/>
<path d="M617.7 226.2 L619.2 225.5 L620.6 222.8 L622.1 222.6 L623.6 223.5 L625.1 221.7 L626.5 219.2 L628.0 219.9 L629.4 220.1 L630.8 218.7 L632.1 217.1 L633.5 216.2 L634.9 217.4 L636.2 216.1 L637.6 213.8 L639.0 212.6 L640.4 214.2 L641.8 214.0 L643.1 211.6 L644.5 210.8 L645.9 211.8 L647.2 211.3 L648.6 209.9 L650.0 208.4 L651.4 209.1 L652.8 209.2 L654.2 208.1 L655.6 206.3 L657.0 207.4 L658.4 208.1 L659.8 206.1 L661.2 204.1 L662.7 203.8 L664.1 204.2 L665.6 201.4 L667.0 199.7 L668.5 199.2 L669.9 197.5 L671.3 194.3 L672.8 191.6 L674.3 191.4 L675.9 189.0 L677.5 184.9 L679.0 181.9 L680.3 180.0 L681.7 176.4 L683.0 171.5 L684.5 166.1 L686.0 161.7 L687.5 156.4 L688.9 151.9 L690.3 147.9 L691.5 145.7 L692.7 148.2 L694.1 152.0 L695.5 155.5 L697.0 161.6 L698.5 167.6 L700.0 172.0 L701.3 174.8 L702.7 179.6 L704.0 183.9 L705.7 186.3 L707.3 188.7 L709.0 193.6 L710.4 195.2 L711.8 195.9 L713.2 197.6 L714.6 200.1 L716.0 202.8 L717.5 201.8 L718.9 202.6 L720.4 205.7 L721.9 207.3 L723.3 206.9 L724.8 207.4 L726.3 210.3 L727.7 210.2 L729.2 209.9 L730.6 210.5 L732.1 213.4 L733.5 213.7 L735.0 212.3 L736.3 213.8 L737.6 215.2 L739.0 215.5 L740.3 214.9 L741.6 214.6 L743.0 216.8 L744.3 218.2 L745.6 217.6 L746.9 216.9 L748.3 218.7 L749.6 221.3 L751.0 220.5 L752.3 220.5 L753.7 221.9 L755.0 223.6 L756.5 223.9 L757.9 223.3 L759.4 225.1 L760.9 227.4 L762.3 227.4 L763.8 228.0" stroke="#f96464" stroke-width="2.5"/>
<path d="M617.7 226.8 L619.0 226.2 L620.4 226.6 L621.7 227.3 L623.0 227.8 L624.7 225.5 L626.3 223.1 L628.0 221.5 L629.4 220.7 L630.8 219.0 L632.1 217.0 L633.5 215.0 L634.9 213.9 L636.2 213.1 L637.6 211.7 L639.0 210.0 L640.4 208.5 L641.8 207.8 L643.1 207.6 L644.5 206.4 L645.9 204.9 L647.2 203.6 L648.6 202.9 L650.0 202.7 L651.4 202.0 L652.8 200.1 L654.2 198.8 L655.6 198.2 L657.0 197.9 L658.4 196.9 L659.8 195.6 L661.2 194.0 L662.5 193.9 L663.9 193.7 L665.3 193.0 L666.6 191.5 L668.0 190.4 L669.5 189.3 L671.0 189.1 L672.4 188.2 L673.9 186.2 L675.4 184.6 L677.1 182.8 L678.8 181.0 L680.5 177.9 L681.8 173.8 L683.2 170.4 L684.5 167.0 L686.2 160.7 L688.0 154.0 L690.3 147.4 L691.5 145.5 L692.7 147.6 L695.0 153.9 L696.9 160.4 L698.8 167.1 L700.6 172.8 L702.5 177.5 L703.9 179.9 L705.2 182.8 L706.6 185.7 L708.0 186.9 L709.4 187.2 L710.8 188.4 L712.2 190.4 L713.6 191.8 L715.0 192.7 L716.4 193.1 L717.8 194.2 L719.2 195.7 L720.6 197.0 L722.0 197.7 L723.4 198.0 L724.8 198.9 L726.3 200.6 L727.7 202.6 L729.2 203.5 L730.6 204.1 L732.1 205.2 L733.5 207.3 L735.0 208.4 L736.3 209.2 L737.6 210.1 L739.0 211.3 L740.3 213.0 L741.6 214.9 L743.0 215.6 L744.3 216.3 L745.6 217.0 L746.9 218.7 L748.3 220.6 L749.6 221.5 L751.0 222.1 L752.3 223.3 L753.7 224.6 L755.0 226.2 L756.4 228.0 L757.8 229.1 L759.1 230.6 L760.5 232.5 L762.1 234.0 L763.8 234.4" stroke="#800000" stroke-width="2.7"/>
</g>
<rect x="611.7" y="141.5" width="158.5999999999999" height="96.19999999999999" fill="none" stroke="#111" stroke-width="1.2"/>
<path d="M617.9 237.7 L617.9 235.89999999999998" stroke="#111" stroke-width="0.8"/>
<path d="M654.7 237.7 L654.7 235.89999999999998" stroke="#111" stroke-width="0.8"/>
<path d="M691.5 237.7 L691.5 235.89999999999998" stroke="#111" stroke-width="0.8"/>
<path d="M728.3 237.7 L728.3 235.89999999999998" stroke="#111" stroke-width="0.8"/>
<path d="M765.1 237.7 L765.1 235.89999999999998" stroke="#111" stroke-width="0.8"/>
<path d="M611.7 145.7 L613.5 145.7" stroke="#111" stroke-width="0.8"/>
<path d="M611.7 171.8 L613.5 171.8" stroke="#111" stroke-width="0.8"/>
<path d="M611.7 197.9 L613.5 197.9" stroke="#111" stroke-width="0.8"/>
<path d="M611.7 224 L613.5 224" stroke="#111" stroke-width="0.8"/>
<text x="610.2" y="150.8" font-size="13.8" font-weight="normal" fill="#111" text-anchor="end" textLength="21.5" lengthAdjust="spacingAndGlyphs">1.0</text>
<text x="610.2" y="229" font-size="13.8" font-weight="normal" fill="#111" text-anchor="end" textLength="21.5" lengthAdjust="spacingAndGlyphs">0.7</text>
<text x="614.6" y="252.4" font-size="13.8" font-weight="normal" fill="#111" text-anchor="middle" textLength="28.6" lengthAdjust="spacingAndGlyphs">-20</text>
<text x="691.8" y="252.4" font-size="13.8" font-weight="normal" fill="#111" text-anchor="middle" textLength="8.6" lengthAdjust="spacingAndGlyphs">0</text>
<text x="764.6" y="252.4" font-size="13.8" font-weight="normal" fill="#111" text-anchor="middle" textLength="17" lengthAdjust="spacingAndGlyphs">20</text>
<text x="689" y="264.8" font-size="12.8" font-weight="normal" fill="#111" text-anchor="middle" textLength="79" lengthAdjust="spacingAndGlyphs">Angle (mrad)</text>
<text x="571.8" y="184.5" font-size="13" font-weight="normal" fill="#111" text-anchor="middle" textLength="46" lengthAdjust="spacingAndGlyphs" transform="rotate(-90 571.8 184.5)">Angular</text>
<text x="589" y="184" font-size="13" font-weight="normal" fill="#111" text-anchor="middle" textLength="68" lengthAdjust="spacingAndGlyphs" transform="rotate(-90 589 184)">correlation</text>
<rect x="708.7" y="121.5" width="76.6" height="51.2" rx="2.2" fill="#fff" stroke="#cccccc" stroke-width="1.1"/>
<path d="M712.8 130.4 L730 130.4" stroke="#ffe000" stroke-width="3.1"/>
<text x="734" y="135.0" font-size="15.6" font-weight="normal" fill="#111" textLength="48.4" lengthAdjust="spacingAndGlyphs">500nm</text>
<path d="M712.8 141.8 L730 141.8" stroke="#f59522" stroke-width="3.1"/>
<text x="734" y="146.45" font-size="15.6" font-weight="normal" fill="#111" textLength="48.4" lengthAdjust="spacingAndGlyphs">600nm</text>
<path d="M712.8 153.3 L730 153.3" stroke="#f96464" stroke-width="3.1"/>
<text x="734" y="157.9" font-size="15.6" font-weight="normal" fill="#111" textLength="48.4" lengthAdjust="spacingAndGlyphs">700nm</text>
<path d="M712.8 164.8 L730 164.8" stroke="#800000" stroke-width="3.1"/>
<text x="734" y="169.35" font-size="15.6" font-weight="normal" fill="#111" textLength="48.4" lengthAdjust="spacingAndGlyphs">800nm</text>
<rect x="620.8" y="305.3" width="150.30000000000007" height="91.89999999999998" fill="#fff"/>
<path d="M627 394.3 L632.1 386.7 L636.2 387.6 L641 381.3 L650.5 373.3 L655 365.7 L658.6 366 L663.4 362.5 L668 361.1 L673.4 355.7 L677.5 353 L681.5 352.5 L686.9 349 L695 347.9 L700.4 344.4 L713.3 328.2 L718.5 332.8 L722.8 329.5 L727.4 327.9 L731.4 309.8 L736.3 315.2 L741.1 325.5 L745.5 316.6 L749.5 320.6 L754.4 316.6 L759 314.7 L763.8 341.4" fill="none" stroke="#ff0000" stroke-width="2.1" stroke-linejoin="round"/>
<rect x="620.8" y="305.3" width="150.30000000000007" height="91.89999999999998" fill="none" stroke="#111" stroke-width="1.2"/>
<path d="M627.0 397.2 L627.0 395.4" stroke="#111" stroke-width="0.8"/>
<path d="M649.8 397.2 L649.8 395.4" stroke="#111" stroke-width="0.8"/>
<path d="M672.6 397.2 L672.6 395.4" stroke="#111" stroke-width="0.8"/>
<path d="M695.4 397.2 L695.4 395.4" stroke="#111" stroke-width="0.8"/>
<path d="M718.2 397.2 L718.2 395.4" stroke="#111" stroke-width="0.8"/>
<path d="M741.0 397.2 L741.0 395.4" stroke="#111" stroke-width="0.8"/>
<path d="M763.8 397.2 L763.8 395.4" stroke="#111" stroke-width="0.8"/>
<path d="M620.8 316.6 L622.5999999999999 316.6" stroke="#111" stroke-width="0.8"/>
<path d="M620.8 346.5 L622.5999999999999 346.5" stroke="#111" stroke-width="0.8"/>
<path d="M620.8 376.5 L622.5999999999999 376.5" stroke="#111" stroke-width="0.8"/>
<text x="616.4" y="323.6" font-size="13.8" font-weight="normal" fill="#111" text-anchor="end" textLength="21.5" lengthAdjust="spacingAndGlyphs">2.2</text>
<text x="616.4" y="382.2" font-size="13.8" font-weight="normal" fill="#111" text-anchor="end" textLength="21.5" lengthAdjust="spacingAndGlyphs">1.8</text>
<text x="627.4" y="414" font-size="13.8" font-weight="normal" fill="#111" text-anchor="middle" textLength="25" lengthAdjust="spacingAndGlyphs">500</text>
<text x="763.4" y="414" font-size="13.8" font-weight="normal" fill="#111" text-anchor="middle" textLength="25" lengthAdjust="spacingAndGlyphs">800</text>
<text x="694" y="422.2" font-size="12.8" font-weight="normal" fill="#111" text-anchor="middle" textLength="103" lengthAdjust="spacingAndGlyphs">Wavelength (nm)</text>
<text x="573" y="352.5" font-size="13" font-weight="normal" fill="#111" text-anchor="middle" textLength="69" lengthAdjust="spacingAndGlyphs" transform="rotate(-90 573 352.5)">Correlation</text>
<text x="590.4" y="352.5" font-size="13" font-weight="normal" fill="#111" text-anchor="middle" textLength="62" lengthAdjust="spacingAndGlyphs" transform="rotate(-90 590.4 352.5)">width (nm)</text>
<clipPath id="cWM"><rect x="0" y="49.5" width="800" height="460"/></clipPath>
<g clip-path="url(#cWM)" fill="#808080" fill-opacity="0.29" font-size="55" font-weight="normal" font-family='"Liberation Mono", monospace'>
<text transform="translate(219.8 364.2) rotate(-45) scale(0.85 1)">A</text>
<text transform="translate(244.3 339.7) rotate(-45) scale(0.85 1)">R</text>
<text transform="translate(269.8 314.2) rotate(-45) scale(0.85 1)">T</text>
<text transform="translate(293.8 290.2) rotate(-45) scale(0.85 1)">I</text>
<text transform="translate(317.8 266.2) rotate(-45) scale(0.85 1)">C</text>
<text transform="translate(342.3 241.7) rotate(-45) scale(0.85 1)">L</text>
<text transform="translate(366.8 217.2) rotate(-45) scale(0.85 1)">E</text>
<text transform="translate(394.8 189.2) rotate(-45) scale(0.85 1)">I</text>
<text transform="translate(462.8 121.2) rotate(-45) scale(0.85 1)">P</text>
<text transform="translate(483.8 100.2) rotate(-45) scale(0.85 1)">R</text>
<text transform="translate(510.8 73.2) rotate(-45) scale(0.85 1)">E</text>
<text transform="translate(534.8 49.2) rotate(-45) scale(0.85 1)">S</text>
</g>
<g clip-path="url(#cWM)" stroke="#808080" stroke-opacity="0.29" stroke-width="4.8" fill="none" stroke-linejoin="miter">
<path d="M394.6 142.6 L413.4 123.8 L432 149.2 L439.5 141.7"/>
</g>
<g opacity="0.62">
<path d="M437.8 407 c4.4 0 7.9 3 7.9 6.7 c0 3.7 -3.5 6.7 -7.9 6.7 c-0.9 0 -1.8 -0.1 -2.6 -0.4 l-3 1.7 l0.8 -2.9 c-1.9 -1.2 -3.1 -3.1 -3.1 -5.1 c0 -3.7 3.5 -6.7 7.9 -6.7 z" fill="#8e8e8e"/>
<path d="M449.8 415.2 c4.2 0 7.6 2.7 7.6 6 c0 1.9 -1.1 3.6 -2.8 4.7 l0.7 2.5 l-2.8 -1.5 c-0.9 0.2 -1.8 0.3 -2.7 0.3 c-4.2 0 -7.6 -2.7 -7.6 -6 c0 -3.3 3.4 -6 7.6 -6 z" fill="#8e8e8e" stroke="#e7e7e7" stroke-width="0.9"/>
<circle cx="435.2" cy="411.6" r="1" fill="#e0e0e0"/><circle cx="440.6" cy="411.6" r="1" fill="#e0e0e0"/>
<circle cx="447.4" cy="419.6" r="0.85" fill="#e0e0e0"/><circle cx="452.2" cy="419.6" r="0.85" fill="#e0e0e0"/>
<path transform="translate(466.2 407.4) scale(0.92)" d="M7.5 1.5 C6.5 5 4 8 1 10 M12.5 1.5 C13.5 5 16 8 19 10 M9.5 9 C8 12.5 6 15.5 4 17.5 L15 16.5 M13 12.5 C15 14.5 16.5 16.5 18 19" fill="none" stroke="#8e8e8e" stroke-width="1.68" stroke-linecap="butt" stroke-linejoin="round"/>
<path transform="translate(487.4 407.4) scale(0.96)" d="M10 0.8 C8.5 4.5 5 7.5 1 9 M10 0.8 C11.5 4.5 15 7.5 19 9 M5.8 9.5 C5.5 13 3.5 17 1 19.2 M5.8 12.5 C6.8 15 8.2 17 10 18.5 M14.4 9.5 C14 13 12.3 17 10 19.2 M14.4 12.5 C15.4 15 17 17.5 19.2 19" fill="none" stroke="#8e8e8e" stroke-width="1.61" stroke-linecap="butt" stroke-linejoin="round"/>
<path transform="translate(511.4 407.4) scale(0.95)" d="M5 1.8 H15 V7 H5 Z M1 10.2 H19 M6.5 10.2 L5.5 14 H15.2 C15.2 17 14.8 18.6 13.8 19 L10.8 18.6" fill="none" stroke="#8e8e8e" stroke-width="1.63" stroke-linecap="butt" stroke-linejoin="round"/>
<circle cx="541.4" cy="417.6" r="1.3" fill="#8e8e8e"/>
<text x="555" y="424.6" font-size="19.6" textLength="86" lengthAdjust="spacing" font-weight="normal" fill="#8e8e8e">Optosky</text>
<path transform="translate(642.6 407.6) scale(1.0)" d="M10 0 V2.6 M1 3.2 H19 M6 5.6 H14 V8.8 H6 Z M3 19.6 V11.2 H17 V18.2 C17 19.2 16.4 19.5 14.8 19.4 M7 13.6 H13 V17 H7 Z" fill="none" stroke="#8e8e8e" stroke-width="1.55" stroke-linecap="butt" stroke-linejoin="round"/>
<path transform="translate(664.2 407.6) scale(1.0)" d="M10 0.6 V8.6 M4 2 L6.2 6.4 M16 2 L13.8 6.4 M1 9 H19 M7.4 9 C7.2 13.5 5 17 1.2 19.2 M12.4 9 V17 C12.4 18.4 13 18.8 14.4 18.8 H17.2 C18.4 18.8 18.8 18 19 15.6" fill="none" stroke="#8e8e8e" stroke-width="1.55" stroke-linecap="butt" stroke-linejoin="round"/>
<path transform="translate(685.4 407.6) scale(1.0)" d="M2.4 1.6 L4.6 3.8 M0.8 7.2 H4.6 V16.4 L7 14.4 M9.6 0.8 L11 3.2 M17.2 0.8 L15.8 3.2 M7.8 4 H19.6 M11.4 4 V9.6 M16 4 V9.6 M8.8 5.8 L9.8 8.4 M18.6 5.8 L17.6 8.4 M7.2 10 H20 M9.8 12.2 H17.6 V19.4 H9.8 Z M9.8 15.8 H17.6" fill="none" stroke="#8e8e8e" stroke-width="1.55" stroke-linecap="butt" stroke-linejoin="round"/>
<path transform="translate(707.4 407.6) scale(1.0)" d="M3.4 4.2 H18.6 M3.4 4.2 V11.5 C3.4 15 2.6 17.5 1 19.4 M3.4 9 H8.4 V15 L6.6 14.2 M11 0.8 C11.4 8 14 14.5 18.4 18.6 L19.2 15.2 M16.6 8 C15 12 12.5 15.5 9.6 17.8 M15 1 L17 3" fill="none" stroke="#8e8e8e" stroke-width="1.55" stroke-linecap="butt" stroke-linejoin="round"/>
<path transform="translate(729.8 407.6) scale(1.0)" d="M5 0.8 C4 4 2.6 6.6 0.8 8.8 M3.2 5.8 V19.6 M10.6 0.6 L8.2 4 M10.2 2 H15.2 L13.2 4.6 M7.8 4.8 H18.6 V9 H7.8 Z M13.2 4.8 V9 M13 9 C11.8 10.6 10 11.8 8.2 12.6 M12.2 10.4 C14 13 14.6 16 13.8 19 L11.8 18 M12.4 12.6 C11.2 14 9.6 15 8 15.6 M12.8 14.8 C11.6 16.8 9.6 18.4 7.4 19.4 M14.8 11.4 L19 9.6 M14.6 13 C15.8 15.6 17.4 17.8 19.6 19.2" fill="none" stroke="#8e8e8e" stroke-width="1.55" stroke-linecap="butt" stroke-linejoin="round"/>
<path transform="translate(751.8 407.6) scale(1.03)" d="M5 0.8 C4 4 2.6 6.6 0.8 8.8 M3.2 5.8 V19.6 M12 1 L13.4 4.2 M18 3.8 C16.4 10 13 15.5 7.6 19.4 M8.6 5 C10.4 11 14.2 16 19.6 19" fill="none" stroke="#8e8e8e" stroke-width="1.50" stroke-linecap="butt" stroke-linejoin="round"/>
</g>
</svg>
</body></html>
